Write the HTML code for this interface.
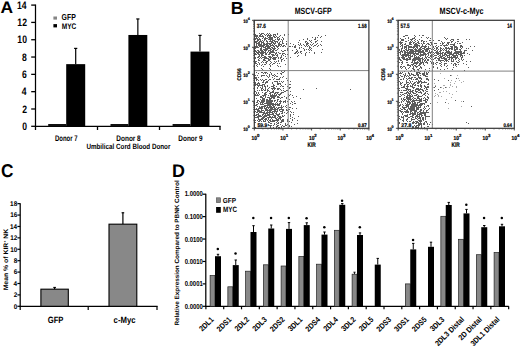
<!DOCTYPE html>
<html><head><meta charset="utf-8"><style>
html,body{margin:0;padding:0;background:#fff;width:520px;height:349px;overflow:hidden}
svg{display:block}
text{font-family:"Liberation Sans",sans-serif;font-weight:bold;font-kerning:none;text-rendering:geometricPrecision}
</style></head><body>
<svg width="520" height="349" viewBox="0 0 520 349">
<rect width="520" height="349" fill="#fff"/>
<text x="0.6" y="12.7" font-size="16.57" textLength="12.56" lengthAdjust="spacingAndGlyphs" fill="#000">A</text>
<path d="M35.5 4.5L35.5 126.9" stroke="#000" stroke-width="1.25"/>
<text x="17.06" y="8.7" font-size="10.83" textLength="9.59" lengthAdjust="spacingAndGlyphs" fill="#000">14</text>
<path d="M31.2 126.3L35.5 126.3" stroke="#000" stroke-width="1.3"/>
<text x="26.95" y="130.03" font-size="10.83" text-anchor="end" textLength="4.79" lengthAdjust="spacingAndGlyphs" fill="#000">0</text>
<path d="M31.2 108.99L35.5 108.99" stroke="#000" stroke-width="1.3"/>
<text x="26.95" y="112.77" font-size="10.83" text-anchor="end" textLength="4.79" lengthAdjust="spacingAndGlyphs" fill="#000">2</text>
<path d="M31.2 91.67L35.5 91.67" stroke="#000" stroke-width="1.3"/>
<text x="26.65" y="95.4" font-size="10.83" text-anchor="end" textLength="4.79" lengthAdjust="spacingAndGlyphs" fill="#000">4</text>
<path d="M31.2 74.36L35.5 74.36" stroke="#000" stroke-width="1.3"/>
<text x="26.91" y="78.08" font-size="10.83" text-anchor="end" textLength="4.79" lengthAdjust="spacingAndGlyphs" fill="#000">6</text>
<path d="M31.2 57.04L35.5 57.04" stroke="#000" stroke-width="1.3"/>
<text x="26.87" y="60.77" font-size="10.83" text-anchor="end" textLength="4.79" lengthAdjust="spacingAndGlyphs" fill="#000">8</text>
<path d="M31.2 39.73L35.5 39.73" stroke="#000" stroke-width="1.3"/>
<text x="26.95" y="43.46" font-size="10.83" text-anchor="end" textLength="9.59" lengthAdjust="spacingAndGlyphs" fill="#000">10</text>
<path d="M31.2 22.41L35.5 22.41" stroke="#000" stroke-width="1.3"/>
<text x="26.95" y="26.19" font-size="10.83" text-anchor="end" textLength="9.59" lengthAdjust="spacingAndGlyphs" fill="#000">12</text>
<path d="M31.2 5.1L35.5 5.1" stroke="#000" stroke-width="1.3"/>
<path d="M34.9 126.3L220.6 126.3" stroke="#000" stroke-width="1.3"/>
<path d="M35.5 126.3L35.5 130" stroke="#000" stroke-width="1.3"/>
<path d="M97.5 126.3L97.5 130" stroke="#000" stroke-width="1.3"/>
<path d="M159.5 126.3L159.5 130" stroke="#000" stroke-width="1.3"/>
<path d="M220 126.3L220 130" stroke="#000" stroke-width="1.3"/>
<rect x="53.4" y="16.5" width="3.6" height="3.1" fill="#858585"/>
<rect x="53.4" y="24.1" width="3.6" height="3.3" fill="#000"/>
<text x="61.62" y="20.47" font-size="8.69" textLength="14.22" lengthAdjust="spacingAndGlyphs" fill="#000">GFP</text>
<text x="61.76" y="28.82" font-size="8.19" textLength="14.57" lengthAdjust="spacingAndGlyphs" fill="#000">MYC</text>
<rect x="48.2" y="124" width="18" height="2.3" fill="#111"/>
<path d="M75.7 48.39L75.7 64.14" stroke="#000" stroke-width="1.2"/>
<path d="M74.1 48.39L77.3 48.39" stroke="#000" stroke-width="1.2"/>
<rect x="66.2" y="64.14" width="19" height="62.16" fill="#000"/>
<rect x="110.5" y="124" width="17.9" height="2.3" fill="#111"/>
<path d="M137.85 18.95L137.85 34.97" stroke="#000" stroke-width="1.2"/>
<path d="M136.25 18.95L139.45 18.95" stroke="#000" stroke-width="1.2"/>
<rect x="128.4" y="34.97" width="18.9" height="91.33" fill="#000"/>
<rect x="172.6" y="124" width="17.9" height="2.3" fill="#111"/>
<path d="M199.95 35.4L199.95 51.59" stroke="#000" stroke-width="1.2"/>
<path d="M198.35 35.4L201.55 35.4" stroke="#000" stroke-width="1.2"/>
<rect x="190.5" y="51.59" width="18.9" height="74.71" fill="#000"/>
<text x="54.9" y="140.62" font-size="8.17" textLength="22.66" lengthAdjust="spacingAndGlyphs" fill="#000">Donor 7</text>
<text x="116.37" y="140.62" font-size="8.05" textLength="24.33" lengthAdjust="spacingAndGlyphs" fill="#000">Donor 8</text>
<text x="178.37" y="140.62" font-size="8.05" textLength="24.27" lengthAdjust="spacingAndGlyphs" fill="#000">Donor 9</text>
<text x="86.42" y="149.23" font-size="7.63" textLength="83.97" lengthAdjust="spacingAndGlyphs" fill="#000">Umbilical Cord Blood Donor</text>
<text x="230.7" y="13.8" font-size="17.44" textLength="12.91" lengthAdjust="spacingAndGlyphs" fill="#000">B</text>
<path d="M254 50h1v1h-1zM254 54h1v1h-1zM254 60h1v1h-1zM254 77h1v1h-1zM254 91h1v1h-1zM254 103h1v1h-1zM254 109h1v1h-1zM254 112h1v1h-1zM254 116h1v1h-1zM254 122h1v1h-1zM255 34h1v1h-1zM255 35h1v1h-1zM255 36h1v1h-1zM255 38h1v1h-1zM255 39h1v1h-1zM255 41h1v1h-1zM255 42h1v1h-1zM255 46h1v1h-1zM255 47h1v1h-1zM255 48h1v1h-1zM255 50h1v1h-1zM255 51h1v1h-1zM255 53h1v1h-1zM255 54h1v1h-1zM255 57h1v1h-1zM255 58h1v1h-1zM255 61h1v1h-1zM255 62h1v1h-1zM255 63h1v1h-1zM255 75h1v1h-1zM255 77h1v1h-1zM255 78h1v1h-1zM255 82h1v1h-1zM255 83h1v1h-1zM255 84h1v1h-1zM255 85h1v1h-1zM255 91h1v1h-1zM255 94h1v1h-1zM255 95h1v1h-1zM255 105h1v1h-1zM255 109h1v1h-1zM255 111h1v1h-1zM255 115h1v1h-1zM255 117h1v1h-1zM255 120h1v1h-1zM255 122h1v1h-1zM255 127h1v1h-1zM256 35h1v1h-1zM256 36h1v1h-1zM256 37h1v1h-1zM256 38h1v1h-1zM256 41h1v1h-1zM256 42h1v1h-1zM256 43h1v1h-1zM256 44h1v1h-1zM256 45h1v1h-1zM256 46h1v1h-1zM256 47h1v1h-1zM256 51h1v1h-1zM256 52h1v1h-1zM256 54h1v1h-1zM256 61h1v1h-1zM256 63h1v1h-1zM256 65h1v1h-1zM256 72h1v1h-1zM256 77h1v1h-1zM256 78h1v1h-1zM256 79h1v1h-1zM256 80h1v1h-1zM256 84h1v1h-1zM256 92h1v1h-1zM256 93h1v1h-1zM256 95h1v1h-1zM256 98h1v1h-1zM256 102h1v1h-1zM256 104h1v1h-1zM256 105h1v1h-1zM256 108h1v1h-1zM256 109h1v1h-1zM256 112h1v1h-1zM256 114h1v1h-1zM256 115h1v1h-1zM256 117h1v1h-1zM257 35h1v1h-1zM257 36h1v1h-1zM257 38h1v1h-1zM257 39h1v1h-1zM257 40h1v1h-1zM257 41h1v1h-1zM257 43h1v1h-1zM257 46h1v1h-1zM257 47h1v1h-1zM257 50h1v1h-1zM257 52h1v1h-1zM257 53h1v1h-1zM257 57h1v1h-1zM257 64h1v1h-1zM257 66h1v1h-1zM257 75h1v1h-1zM257 79h1v1h-1zM257 83h1v1h-1zM257 84h1v1h-1zM257 85h1v1h-1zM257 87h1v1h-1zM257 88h1v1h-1zM257 90h1v1h-1zM257 94h1v1h-1zM257 95h1v1h-1zM257 100h1v1h-1zM257 101h1v1h-1zM257 102h1v1h-1zM257 104h1v1h-1zM257 106h1v1h-1zM257 109h1v1h-1zM257 110h1v1h-1zM257 111h1v1h-1zM257 112h1v1h-1zM257 114h1v1h-1zM257 116h1v1h-1zM257 117h1v1h-1zM257 120h1v1h-1zM258 37h1v1h-1zM258 39h1v1h-1zM258 40h1v1h-1zM258 42h1v1h-1zM258 43h1v1h-1zM258 44h1v1h-1zM258 45h1v1h-1zM258 47h1v1h-1zM258 50h1v1h-1zM258 51h1v1h-1zM258 52h1v1h-1zM258 53h1v1h-1zM258 54h1v1h-1zM258 56h1v1h-1zM258 57h1v1h-1zM258 59h1v1h-1zM258 60h1v1h-1zM258 62h1v1h-1zM258 73h1v1h-1zM258 77h1v1h-1zM258 80h1v1h-1zM258 82h1v1h-1zM258 83h1v1h-1zM258 85h1v1h-1zM258 86h1v1h-1zM258 92h1v1h-1zM258 93h1v1h-1zM258 95h1v1h-1zM258 100h1v1h-1zM258 103h1v1h-1zM258 108h1v1h-1zM258 109h1v1h-1zM258 110h1v1h-1zM258 111h1v1h-1zM258 113h1v1h-1zM258 114h1v1h-1zM258 115h1v1h-1zM258 116h1v1h-1zM258 117h1v1h-1zM258 118h1v1h-1zM258 119h1v1h-1zM258 121h1v1h-1zM259 33h1v1h-1zM259 35h1v1h-1zM259 36h1v1h-1zM259 38h1v1h-1zM259 39h1v1h-1zM259 41h1v1h-1zM259 42h1v1h-1zM259 43h1v1h-1zM259 44h1v1h-1zM259 45h1v1h-1zM259 46h1v1h-1zM259 51h1v1h-1zM259 52h1v1h-1zM259 54h1v1h-1zM259 55h1v1h-1zM259 56h1v1h-1zM259 58h1v1h-1zM259 60h1v1h-1zM259 63h1v1h-1zM259 64h1v1h-1zM259 70h1v1h-1zM259 83h1v1h-1zM259 84h1v1h-1zM259 85h1v1h-1zM259 90h1v1h-1zM259 94h1v1h-1zM259 101h1v1h-1zM259 106h1v1h-1zM259 107h1v1h-1zM259 108h1v1h-1zM259 110h1v1h-1zM259 111h1v1h-1zM259 112h1v1h-1zM259 115h1v1h-1zM259 116h1v1h-1zM259 119h1v1h-1zM259 120h1v1h-1zM259 121h1v1h-1zM260 34h1v1h-1zM260 35h1v1h-1zM260 36h1v1h-1zM260 39h1v1h-1zM260 40h1v1h-1zM260 41h1v1h-1zM260 44h1v1h-1zM260 45h1v1h-1zM260 46h1v1h-1zM260 48h1v1h-1zM260 49h1v1h-1zM260 50h1v1h-1zM260 52h1v1h-1zM260 53h1v1h-1zM260 57h1v1h-1zM260 79h1v1h-1zM260 85h1v1h-1zM260 87h1v1h-1zM260 96h1v1h-1zM260 97h1v1h-1zM260 99h1v1h-1zM260 102h1v1h-1zM260 103h1v1h-1zM260 104h1v1h-1zM260 107h1v1h-1zM260 108h1v1h-1zM260 111h1v1h-1zM260 112h1v1h-1zM260 115h1v1h-1zM260 116h1v1h-1zM260 119h1v1h-1zM260 120h1v1h-1zM261 33h1v1h-1zM261 34h1v1h-1zM261 36h1v1h-1zM261 41h1v1h-1zM261 42h1v1h-1zM261 43h1v1h-1zM261 44h1v1h-1zM261 45h1v1h-1zM261 46h1v1h-1zM261 47h1v1h-1zM261 48h1v1h-1zM261 49h1v1h-1zM261 50h1v1h-1zM261 51h1v1h-1zM261 52h1v1h-1zM261 53h1v1h-1zM261 54h1v1h-1zM261 55h1v1h-1zM261 56h1v1h-1zM261 58h1v1h-1zM261 62h1v1h-1zM261 65h1v1h-1zM261 68h1v1h-1zM261 72h1v1h-1zM261 75h1v1h-1zM261 76h1v1h-1zM261 80h1v1h-1zM261 85h1v1h-1zM261 88h1v1h-1zM261 89h1v1h-1zM261 90h1v1h-1zM261 96h1v1h-1zM261 97h1v1h-1zM261 100h1v1h-1zM261 101h1v1h-1zM261 102h1v1h-1zM261 104h1v1h-1zM261 106h1v1h-1zM261 107h1v1h-1zM261 108h1v1h-1zM261 109h1v1h-1zM261 110h1v1h-1zM261 111h1v1h-1zM261 112h1v1h-1zM261 116h1v1h-1zM261 118h1v1h-1zM261 119h1v1h-1zM261 121h1v1h-1zM262 33h1v1h-1zM262 35h1v1h-1zM262 36h1v1h-1zM262 38h1v1h-1zM262 40h1v1h-1zM262 42h1v1h-1zM262 45h1v1h-1zM262 46h1v1h-1zM262 50h1v1h-1zM262 51h1v1h-1zM262 52h1v1h-1zM262 53h1v1h-1zM262 54h1v1h-1zM262 55h1v1h-1zM262 57h1v1h-1zM262 61h1v1h-1zM262 64h1v1h-1zM262 69h1v1h-1zM262 72h1v1h-1zM262 75h1v1h-1zM262 79h1v1h-1zM262 82h1v1h-1zM262 84h1v1h-1zM262 85h1v1h-1zM262 86h1v1h-1zM262 87h1v1h-1zM262 88h1v1h-1zM262 90h1v1h-1zM262 92h1v1h-1zM262 95h1v1h-1zM262 97h1v1h-1zM262 98h1v1h-1zM262 99h1v1h-1zM262 100h1v1h-1zM262 101h1v1h-1zM262 102h1v1h-1zM262 103h1v1h-1zM262 104h1v1h-1zM262 106h1v1h-1zM262 107h1v1h-1zM262 108h1v1h-1zM262 110h1v1h-1zM262 112h1v1h-1zM262 114h1v1h-1zM262 115h1v1h-1zM262 117h1v1h-1zM262 118h1v1h-1zM262 119h1v1h-1zM263 33h1v1h-1zM263 36h1v1h-1zM263 37h1v1h-1zM263 41h1v1h-1zM263 42h1v1h-1zM263 43h1v1h-1zM263 44h1v1h-1zM263 45h1v1h-1zM263 46h1v1h-1zM263 47h1v1h-1zM263 49h1v1h-1zM263 51h1v1h-1zM263 52h1v1h-1zM263 53h1v1h-1zM263 55h1v1h-1zM263 57h1v1h-1zM263 59h1v1h-1zM263 60h1v1h-1zM263 62h1v1h-1zM263 66h1v1h-1zM263 70h1v1h-1zM263 73h1v1h-1zM263 75h1v1h-1zM263 80h1v1h-1zM263 81h1v1h-1zM263 82h1v1h-1zM263 84h1v1h-1zM263 89h1v1h-1zM263 95h1v1h-1zM263 96h1v1h-1zM263 98h1v1h-1zM263 99h1v1h-1zM263 100h1v1h-1zM263 101h1v1h-1zM263 102h1v1h-1zM263 104h1v1h-1zM263 106h1v1h-1zM263 110h1v1h-1zM263 112h1v1h-1zM263 113h1v1h-1zM263 114h1v1h-1zM263 116h1v1h-1zM263 117h1v1h-1zM263 118h1v1h-1zM263 120h1v1h-1zM263 121h1v1h-1zM264 34h1v1h-1zM264 38h1v1h-1zM264 39h1v1h-1zM264 40h1v1h-1zM264 43h1v1h-1zM264 44h1v1h-1zM264 45h1v1h-1zM264 47h1v1h-1zM264 49h1v1h-1zM264 50h1v1h-1zM264 52h1v1h-1zM264 56h1v1h-1zM264 57h1v1h-1zM264 58h1v1h-1zM264 59h1v1h-1zM264 60h1v1h-1zM264 64h1v1h-1zM264 72h1v1h-1zM264 75h1v1h-1zM264 80h1v1h-1zM264 84h1v1h-1zM264 85h1v1h-1zM264 86h1v1h-1zM264 90h1v1h-1zM264 93h1v1h-1zM264 94h1v1h-1zM264 95h1v1h-1zM264 98h1v1h-1zM264 99h1v1h-1zM264 100h1v1h-1zM264 101h1v1h-1zM264 103h1v1h-1zM264 105h1v1h-1zM264 106h1v1h-1zM264 107h1v1h-1zM264 108h1v1h-1zM264 111h1v1h-1zM264 112h1v1h-1zM264 113h1v1h-1zM264 115h1v1h-1zM264 116h1v1h-1zM264 117h1v1h-1zM264 119h1v1h-1zM264 121h1v1h-1zM265 35h1v1h-1zM265 37h1v1h-1zM265 38h1v1h-1zM265 39h1v1h-1zM265 44h1v1h-1zM265 46h1v1h-1zM265 47h1v1h-1zM265 48h1v1h-1zM265 49h1v1h-1zM265 50h1v1h-1zM265 51h1v1h-1zM265 52h1v1h-1zM265 53h1v1h-1zM265 54h1v1h-1zM265 56h1v1h-1zM265 57h1v1h-1zM265 58h1v1h-1zM265 60h1v1h-1zM265 62h1v1h-1zM265 64h1v1h-1zM265 72h1v1h-1zM265 73h1v1h-1zM265 79h1v1h-1zM265 82h1v1h-1zM265 83h1v1h-1zM265 86h1v1h-1zM265 87h1v1h-1zM265 88h1v1h-1zM265 89h1v1h-1zM265 90h1v1h-1zM265 92h1v1h-1zM265 93h1v1h-1zM265 94h1v1h-1zM265 95h1v1h-1zM265 96h1v1h-1zM265 97h1v1h-1zM265 103h1v1h-1zM265 105h1v1h-1zM265 106h1v1h-1zM265 108h1v1h-1zM265 109h1v1h-1zM265 110h1v1h-1zM265 113h1v1h-1zM265 114h1v1h-1zM265 115h1v1h-1zM265 116h1v1h-1zM265 118h1v1h-1zM265 119h1v1h-1zM265 120h1v1h-1zM265 121h1v1h-1zM266 34h1v1h-1zM266 38h1v1h-1zM266 40h1v1h-1zM266 41h1v1h-1zM266 43h1v1h-1zM266 44h1v1h-1zM266 45h1v1h-1zM266 46h1v1h-1zM266 48h1v1h-1zM266 49h1v1h-1zM266 50h1v1h-1zM266 53h1v1h-1zM266 54h1v1h-1zM266 57h1v1h-1zM266 58h1v1h-1zM266 61h1v1h-1zM266 62h1v1h-1zM266 63h1v1h-1zM266 72h1v1h-1zM266 75h1v1h-1zM266 79h1v1h-1zM266 81h1v1h-1zM266 82h1v1h-1zM266 92h1v1h-1zM266 94h1v1h-1zM266 99h1v1h-1zM266 100h1v1h-1zM266 101h1v1h-1zM266 102h1v1h-1zM266 103h1v1h-1zM266 105h1v1h-1zM266 107h1v1h-1zM266 108h1v1h-1zM266 109h1v1h-1zM266 110h1v1h-1zM266 112h1v1h-1zM266 113h1v1h-1zM266 115h1v1h-1zM266 116h1v1h-1zM266 118h1v1h-1zM266 119h1v1h-1zM267 33h1v1h-1zM267 35h1v1h-1zM267 36h1v1h-1zM267 38h1v1h-1zM267 41h1v1h-1zM267 42h1v1h-1zM267 43h1v1h-1zM267 44h1v1h-1zM267 45h1v1h-1zM267 46h1v1h-1zM267 47h1v1h-1zM267 48h1v1h-1zM267 49h1v1h-1zM267 52h1v1h-1zM267 58h1v1h-1zM267 61h1v1h-1zM267 73h1v1h-1zM267 76h1v1h-1zM267 81h1v1h-1zM267 82h1v1h-1zM267 85h1v1h-1zM267 86h1v1h-1zM267 89h1v1h-1zM267 90h1v1h-1zM267 91h1v1h-1zM267 97h1v1h-1zM267 99h1v1h-1zM267 100h1v1h-1zM267 101h1v1h-1zM267 102h1v1h-1zM267 103h1v1h-1zM267 104h1v1h-1zM267 105h1v1h-1zM267 106h1v1h-1zM267 107h1v1h-1zM267 109h1v1h-1zM267 110h1v1h-1zM267 111h1v1h-1zM267 112h1v1h-1zM267 113h1v1h-1zM267 114h1v1h-1zM267 115h1v1h-1zM267 117h1v1h-1zM267 120h1v1h-1zM268 34h1v1h-1zM268 35h1v1h-1zM268 37h1v1h-1zM268 39h1v1h-1zM268 43h1v1h-1zM268 45h1v1h-1zM268 46h1v1h-1zM268 47h1v1h-1zM268 48h1v1h-1zM268 50h1v1h-1zM268 51h1v1h-1zM268 54h1v1h-1zM268 56h1v1h-1zM268 58h1v1h-1zM268 59h1v1h-1zM268 60h1v1h-1zM268 77h1v1h-1zM268 80h1v1h-1zM268 88h1v1h-1zM268 90h1v1h-1zM268 95h1v1h-1zM268 97h1v1h-1zM268 100h1v1h-1zM268 101h1v1h-1zM268 102h1v1h-1zM268 103h1v1h-1zM268 104h1v1h-1zM268 105h1v1h-1zM268 107h1v1h-1zM268 108h1v1h-1zM268 110h1v1h-1zM268 112h1v1h-1zM268 114h1v1h-1zM268 115h1v1h-1zM268 117h1v1h-1zM268 118h1v1h-1zM268 119h1v1h-1zM268 121h1v1h-1zM268 122h1v1h-1zM268 124h1v1h-1zM268 125h1v1h-1zM269 33h1v1h-1zM269 35h1v1h-1zM269 36h1v1h-1zM269 37h1v1h-1zM269 38h1v1h-1zM269 39h1v1h-1zM269 41h1v1h-1zM269 43h1v1h-1zM269 44h1v1h-1zM269 46h1v1h-1zM269 47h1v1h-1zM269 48h1v1h-1zM269 50h1v1h-1zM269 52h1v1h-1zM269 53h1v1h-1zM269 54h1v1h-1zM269 56h1v1h-1zM269 57h1v1h-1zM269 59h1v1h-1zM269 60h1v1h-1zM269 64h1v1h-1zM269 68h1v1h-1zM269 74h1v1h-1zM269 75h1v1h-1zM269 76h1v1h-1zM269 79h1v1h-1zM269 87h1v1h-1zM269 91h1v1h-1zM269 93h1v1h-1zM269 97h1v1h-1zM269 98h1v1h-1zM269 99h1v1h-1zM269 100h1v1h-1zM269 101h1v1h-1zM269 102h1v1h-1zM269 103h1v1h-1zM269 104h1v1h-1zM269 105h1v1h-1zM269 106h1v1h-1zM269 107h1v1h-1zM269 109h1v1h-1zM269 110h1v1h-1zM269 111h1v1h-1zM269 112h1v1h-1zM269 113h1v1h-1zM269 114h1v1h-1zM269 115h1v1h-1zM269 116h1v1h-1zM269 117h1v1h-1zM269 120h1v1h-1zM269 122h1v1h-1zM269 125h1v1h-1zM270 34h1v1h-1zM270 35h1v1h-1zM270 36h1v1h-1zM270 37h1v1h-1zM270 38h1v1h-1zM270 39h1v1h-1zM270 40h1v1h-1zM270 41h1v1h-1zM270 43h1v1h-1zM270 44h1v1h-1zM270 45h1v1h-1zM270 46h1v1h-1zM270 48h1v1h-1zM270 49h1v1h-1zM270 50h1v1h-1zM270 51h1v1h-1zM270 52h1v1h-1zM270 53h1v1h-1zM270 56h1v1h-1zM270 57h1v1h-1zM270 58h1v1h-1zM270 59h1v1h-1zM270 61h1v1h-1zM270 63h1v1h-1zM270 65h1v1h-1zM270 66h1v1h-1zM270 69h1v1h-1zM270 72h1v1h-1zM270 79h1v1h-1zM270 92h1v1h-1zM270 93h1v1h-1zM270 94h1v1h-1zM270 95h1v1h-1zM270 96h1v1h-1zM270 98h1v1h-1zM270 99h1v1h-1zM270 100h1v1h-1zM270 101h1v1h-1zM270 102h1v1h-1zM270 103h1v1h-1zM270 104h1v1h-1zM270 105h1v1h-1zM270 106h1v1h-1zM270 107h1v1h-1zM270 108h1v1h-1zM270 109h1v1h-1zM270 110h1v1h-1zM270 111h1v1h-1zM270 112h1v1h-1zM270 114h1v1h-1zM270 116h1v1h-1zM270 117h1v1h-1zM270 119h1v1h-1zM270 120h1v1h-1zM270 121h1v1h-1zM270 123h1v1h-1zM270 125h1v1h-1zM270 126h1v1h-1zM270 127h1v1h-1zM271 35h1v1h-1zM271 37h1v1h-1zM271 38h1v1h-1zM271 39h1v1h-1zM271 41h1v1h-1zM271 42h1v1h-1zM271 43h1v1h-1zM271 45h1v1h-1zM271 47h1v1h-1zM271 49h1v1h-1zM271 51h1v1h-1zM271 52h1v1h-1zM271 54h1v1h-1zM271 57h1v1h-1zM271 62h1v1h-1zM271 73h1v1h-1zM271 74h1v1h-1zM271 86h1v1h-1zM271 88h1v1h-1zM271 92h1v1h-1zM271 95h1v1h-1zM271 96h1v1h-1zM271 97h1v1h-1zM271 98h1v1h-1zM271 100h1v1h-1zM271 101h1v1h-1zM271 102h1v1h-1zM271 103h1v1h-1zM271 104h1v1h-1zM271 106h1v1h-1zM271 107h1v1h-1zM271 108h1v1h-1zM271 109h1v1h-1zM271 110h1v1h-1zM271 112h1v1h-1zM271 114h1v1h-1zM271 117h1v1h-1zM271 118h1v1h-1zM271 121h1v1h-1zM271 123h1v1h-1zM271 125h1v1h-1zM272 37h1v1h-1zM272 38h1v1h-1zM272 39h1v1h-1zM272 40h1v1h-1zM272 41h1v1h-1zM272 42h1v1h-1zM272 44h1v1h-1zM272 45h1v1h-1zM272 47h1v1h-1zM272 48h1v1h-1zM272 50h1v1h-1zM272 51h1v1h-1zM272 52h1v1h-1zM272 54h1v1h-1zM272 55h1v1h-1zM272 56h1v1h-1zM272 58h1v1h-1zM272 64h1v1h-1zM272 75h1v1h-1zM272 77h1v1h-1zM272 82h1v1h-1zM272 83h1v1h-1zM272 86h1v1h-1zM272 88h1v1h-1zM272 89h1v1h-1zM272 91h1v1h-1zM272 92h1v1h-1zM272 94h1v1h-1zM272 95h1v1h-1zM272 96h1v1h-1zM272 97h1v1h-1zM272 100h1v1h-1zM272 101h1v1h-1zM272 103h1v1h-1zM272 104h1v1h-1zM272 105h1v1h-1zM272 107h1v1h-1zM272 108h1v1h-1zM272 109h1v1h-1zM272 111h1v1h-1zM272 112h1v1h-1zM272 113h1v1h-1zM272 114h1v1h-1zM272 116h1v1h-1zM272 117h1v1h-1zM272 119h1v1h-1zM272 120h1v1h-1zM272 121h1v1h-1zM273 34h1v1h-1zM273 35h1v1h-1zM273 36h1v1h-1zM273 40h1v1h-1zM273 42h1v1h-1zM273 43h1v1h-1zM273 45h1v1h-1zM273 46h1v1h-1zM273 48h1v1h-1zM273 49h1v1h-1zM273 50h1v1h-1zM273 51h1v1h-1zM273 52h1v1h-1zM273 54h1v1h-1zM273 55h1v1h-1zM273 57h1v1h-1zM273 58h1v1h-1zM273 59h1v1h-1zM273 63h1v1h-1zM273 75h1v1h-1zM273 79h1v1h-1zM273 84h1v1h-1zM273 85h1v1h-1zM273 86h1v1h-1zM273 87h1v1h-1zM273 88h1v1h-1zM273 90h1v1h-1zM273 91h1v1h-1zM273 92h1v1h-1zM273 95h1v1h-1zM273 96h1v1h-1zM273 97h1v1h-1zM273 98h1v1h-1zM273 103h1v1h-1zM273 104h1v1h-1zM273 105h1v1h-1zM273 106h1v1h-1zM273 107h1v1h-1zM273 109h1v1h-1zM273 111h1v1h-1zM273 113h1v1h-1zM273 114h1v1h-1zM273 115h1v1h-1zM273 117h1v1h-1zM273 120h1v1h-1zM273 121h1v1h-1zM273 125h1v1h-1zM273 127h1v1h-1zM274 34h1v1h-1zM274 36h1v1h-1zM274 37h1v1h-1zM274 40h1v1h-1zM274 41h1v1h-1zM274 43h1v1h-1zM274 44h1v1h-1zM274 46h1v1h-1zM274 47h1v1h-1zM274 48h1v1h-1zM274 49h1v1h-1zM274 52h1v1h-1zM274 55h1v1h-1zM274 57h1v1h-1zM274 58h1v1h-1zM274 59h1v1h-1zM274 61h1v1h-1zM274 63h1v1h-1zM274 74h1v1h-1zM274 76h1v1h-1zM274 78h1v1h-1zM274 81h1v1h-1zM274 85h1v1h-1zM274 87h1v1h-1zM274 88h1v1h-1zM274 89h1v1h-1zM274 93h1v1h-1zM274 94h1v1h-1zM274 95h1v1h-1zM274 96h1v1h-1zM274 97h1v1h-1zM274 98h1v1h-1zM274 100h1v1h-1zM274 101h1v1h-1zM274 104h1v1h-1zM274 106h1v1h-1zM274 107h1v1h-1zM274 108h1v1h-1zM274 109h1v1h-1zM274 110h1v1h-1zM274 111h1v1h-1zM274 112h1v1h-1zM274 115h1v1h-1zM274 116h1v1h-1zM274 117h1v1h-1zM274 120h1v1h-1zM274 121h1v1h-1zM274 123h1v1h-1zM274 124h1v1h-1zM275 34h1v1h-1zM275 35h1v1h-1zM275 37h1v1h-1zM275 39h1v1h-1zM275 41h1v1h-1zM275 42h1v1h-1zM275 43h1v1h-1zM275 45h1v1h-1zM275 48h1v1h-1zM275 50h1v1h-1zM275 53h1v1h-1zM275 54h1v1h-1zM275 57h1v1h-1zM275 58h1v1h-1zM275 59h1v1h-1zM275 62h1v1h-1zM275 75h1v1h-1zM275 81h1v1h-1zM275 88h1v1h-1zM275 92h1v1h-1zM275 93h1v1h-1zM275 95h1v1h-1zM275 96h1v1h-1zM275 100h1v1h-1zM275 103h1v1h-1zM275 104h1v1h-1zM275 105h1v1h-1zM275 108h1v1h-1zM275 109h1v1h-1zM275 110h1v1h-1zM275 111h1v1h-1zM275 113h1v1h-1zM275 115h1v1h-1zM275 116h1v1h-1zM275 117h1v1h-1zM275 118h1v1h-1zM275 120h1v1h-1zM276 36h1v1h-1zM276 41h1v1h-1zM276 45h1v1h-1zM276 46h1v1h-1zM276 50h1v1h-1zM276 52h1v1h-1zM276 53h1v1h-1zM276 55h1v1h-1zM276 57h1v1h-1zM276 61h1v1h-1zM276 76h1v1h-1zM276 79h1v1h-1zM276 81h1v1h-1zM276 86h1v1h-1zM276 92h1v1h-1zM276 94h1v1h-1zM276 95h1v1h-1zM276 102h1v1h-1zM276 104h1v1h-1zM276 107h1v1h-1zM276 109h1v1h-1zM276 111h1v1h-1zM276 112h1v1h-1zM276 113h1v1h-1zM276 114h1v1h-1zM276 118h1v1h-1zM276 119h1v1h-1zM276 120h1v1h-1zM276 122h1v1h-1zM276 124h1v1h-1zM276 126h1v1h-1zM276 127h1v1h-1zM277 33h1v1h-1zM277 34h1v1h-1zM277 37h1v1h-1zM277 38h1v1h-1zM277 39h1v1h-1zM277 41h1v1h-1zM277 42h1v1h-1zM277 46h1v1h-1zM277 47h1v1h-1zM277 49h1v1h-1zM277 54h1v1h-1zM277 55h1v1h-1zM277 56h1v1h-1zM277 63h1v1h-1zM277 65h1v1h-1zM277 73h1v1h-1zM277 76h1v1h-1zM277 79h1v1h-1zM277 81h1v1h-1zM277 82h1v1h-1zM277 83h1v1h-1zM277 84h1v1h-1zM277 88h1v1h-1zM277 89h1v1h-1zM277 92h1v1h-1zM277 93h1v1h-1zM277 96h1v1h-1zM277 97h1v1h-1zM277 99h1v1h-1zM277 100h1v1h-1zM277 101h1v1h-1zM277 103h1v1h-1zM277 104h1v1h-1zM277 105h1v1h-1zM277 108h1v1h-1zM277 109h1v1h-1zM277 110h1v1h-1zM277 111h1v1h-1zM277 114h1v1h-1zM277 115h1v1h-1zM277 117h1v1h-1zM277 119h1v1h-1zM277 120h1v1h-1zM277 121h1v1h-1zM277 123h1v1h-1zM277 125h1v1h-1zM277 126h1v1h-1zM278 37h1v1h-1zM278 39h1v1h-1zM278 40h1v1h-1zM278 43h1v1h-1zM278 44h1v1h-1zM278 45h1v1h-1zM278 46h1v1h-1zM278 48h1v1h-1zM278 52h1v1h-1zM278 57h1v1h-1zM278 58h1v1h-1zM278 60h1v1h-1zM278 61h1v1h-1zM278 66h1v1h-1zM278 79h1v1h-1zM278 83h1v1h-1zM278 84h1v1h-1zM278 88h1v1h-1zM278 89h1v1h-1zM278 92h1v1h-1zM278 94h1v1h-1zM278 96h1v1h-1zM278 97h1v1h-1zM278 99h1v1h-1zM278 104h1v1h-1zM278 105h1v1h-1zM278 107h1v1h-1zM278 108h1v1h-1zM278 114h1v1h-1zM278 115h1v1h-1zM278 116h1v1h-1zM278 118h1v1h-1zM278 119h1v1h-1zM278 120h1v1h-1zM278 122h1v1h-1zM278 123h1v1h-1zM278 125h1v1h-1zM278 127h1v1h-1zM279 36h1v1h-1zM279 38h1v1h-1zM279 39h1v1h-1zM279 42h1v1h-1zM279 43h1v1h-1zM279 44h1v1h-1zM279 45h1v1h-1zM279 53h1v1h-1zM279 63h1v1h-1zM279 78h1v1h-1zM279 79h1v1h-1zM279 81h1v1h-1zM279 83h1v1h-1zM279 88h1v1h-1zM279 94h1v1h-1zM279 95h1v1h-1zM279 97h1v1h-1zM279 101h1v1h-1zM279 103h1v1h-1zM279 104h1v1h-1zM279 105h1v1h-1zM279 107h1v1h-1zM279 109h1v1h-1zM279 110h1v1h-1zM279 113h1v1h-1zM279 114h1v1h-1zM279 116h1v1h-1zM279 117h1v1h-1zM279 118h1v1h-1zM279 127h1v1h-1zM280 35h1v1h-1zM280 41h1v1h-1zM280 44h1v1h-1zM280 46h1v1h-1zM280 53h1v1h-1zM280 57h1v1h-1zM280 58h1v1h-1zM280 66h1v1h-1zM280 73h1v1h-1zM280 77h1v1h-1zM280 83h1v1h-1zM280 84h1v1h-1zM280 86h1v1h-1zM280 89h1v1h-1zM280 93h1v1h-1zM280 94h1v1h-1zM280 98h1v1h-1zM280 100h1v1h-1zM280 101h1v1h-1zM280 102h1v1h-1zM280 103h1v1h-1zM280 107h1v1h-1zM280 109h1v1h-1zM280 111h1v1h-1zM280 116h1v1h-1zM280 117h1v1h-1zM280 118h1v1h-1zM280 119h1v1h-1zM280 122h1v1h-1zM280 124h1v1h-1zM281 39h1v1h-1zM281 44h1v1h-1zM281 45h1v1h-1zM281 50h1v1h-1zM281 55h1v1h-1zM281 56h1v1h-1zM281 57h1v1h-1zM281 59h1v1h-1zM281 60h1v1h-1zM281 61h1v1h-1zM281 71h1v1h-1zM281 73h1v1h-1zM281 74h1v1h-1zM281 81h1v1h-1zM281 85h1v1h-1zM281 90h1v1h-1zM281 92h1v1h-1zM281 93h1v1h-1zM281 97h1v1h-1zM281 101h1v1h-1zM281 105h1v1h-1zM281 106h1v1h-1zM281 107h1v1h-1zM281 108h1v1h-1zM281 109h1v1h-1zM281 111h1v1h-1zM281 113h1v1h-1zM281 117h1v1h-1zM281 120h1v1h-1zM281 121h1v1h-1zM281 122h1v1h-1zM281 126h1v1h-1zM281 127h1v1h-1zM282 37h1v1h-1zM282 40h1v1h-1zM282 41h1v1h-1zM282 42h1v1h-1zM282 43h1v1h-1zM282 46h1v1h-1zM282 51h1v1h-1zM282 53h1v1h-1zM282 54h1v1h-1zM282 59h1v1h-1zM282 72h1v1h-1zM282 77h1v1h-1zM282 82h1v1h-1zM282 86h1v1h-1zM282 92h1v1h-1zM282 97h1v1h-1zM282 107h1v1h-1zM282 109h1v1h-1zM282 110h1v1h-1zM282 111h1v1h-1zM282 112h1v1h-1zM282 113h1v1h-1zM282 115h1v1h-1zM282 116h1v1h-1zM282 119h1v1h-1zM282 120h1v1h-1zM282 121h1v1h-1zM282 125h1v1h-1zM283 38h1v1h-1zM283 39h1v1h-1zM283 43h1v1h-1zM283 45h1v1h-1zM283 46h1v1h-1zM283 51h1v1h-1zM283 53h1v1h-1zM283 55h1v1h-1zM283 58h1v1h-1zM283 72h1v1h-1zM283 76h1v1h-1zM283 81h1v1h-1zM283 86h1v1h-1zM283 88h1v1h-1zM283 90h1v1h-1zM283 92h1v1h-1zM283 101h1v1h-1zM283 102h1v1h-1zM283 106h1v1h-1zM283 109h1v1h-1zM283 110h1v1h-1zM283 116h1v1h-1zM283 119h1v1h-1zM283 120h1v1h-1zM283 121h1v1h-1zM283 126h1v1h-1zM284 34h1v1h-1zM284 35h1v1h-1zM284 45h1v1h-1zM284 50h1v1h-1zM284 53h1v1h-1zM284 60h1v1h-1zM284 70h1v1h-1zM284 71h1v1h-1zM284 91h1v1h-1zM284 96h1v1h-1zM284 101h1v1h-1zM284 112h1v1h-1zM284 115h1v1h-1zM284 126h1v1h-1zM285 46h1v1h-1zM285 50h1v1h-1zM285 54h1v1h-1zM285 56h1v1h-1zM285 64h1v1h-1zM285 84h1v1h-1zM285 91h1v1h-1zM285 100h1v1h-1zM285 101h1v1h-1zM285 102h1v1h-1zM285 106h1v1h-1zM285 123h1v1h-1zM285 124h1v1h-1zM285 125h1v1h-1zM286 41h1v1h-1zM286 43h1v1h-1zM286 44h1v1h-1zM286 58h1v1h-1zM286 78h1v1h-1zM286 90h1v1h-1zM286 97h1v1h-1zM286 98h1v1h-1zM286 105h1v1h-1zM286 107h1v1h-1zM286 109h1v1h-1zM286 110h1v1h-1zM286 113h1v1h-1zM286 125h1v1h-1zM287 48h1v1h-1zM287 49h1v1h-1zM287 50h1v1h-1zM287 54h1v1h-1zM287 80h1v1h-1zM287 86h1v1h-1zM287 90h1v1h-1zM287 101h1v1h-1zM287 110h1v1h-1zM287 112h1v1h-1zM287 119h1v1h-1zM287 120h1v1h-1zM287 121h1v1h-1zM287 124h1v1h-1zM288 34h1v1h-1zM288 94h1v1h-1zM288 96h1v1h-1zM288 104h1v1h-1zM288 109h1v1h-1zM288 111h1v1h-1zM289 46h1v1h-1zM289 84h1v1h-1zM289 87h1v1h-1zM289 88h1v1h-1zM289 95h1v1h-1zM289 99h1v1h-1zM289 107h1v1h-1zM289 109h1v1h-1zM289 121h1v1h-1zM289 125h1v1h-1zM289 126h1v1h-1zM290 43h1v1h-1zM290 46h1v1h-1zM290 57h1v1h-1zM290 81h1v1h-1zM290 84h1v1h-1zM290 87h1v1h-1zM290 91h1v1h-1zM290 94h1v1h-1zM290 103h1v1h-1zM290 107h1v1h-1zM290 111h1v1h-1zM290 114h1v1h-1zM290 115h1v1h-1zM290 116h1v1h-1zM290 118h1v1h-1zM291 101h1v1h-1zM291 112h1v1h-1zM291 122h1v1h-1zM291 126h1v1h-1zM292 46h1v1h-1zM292 50h1v1h-1zM292 95h1v1h-1zM292 102h1v1h-1zM292 104h1v1h-1zM292 108h1v1h-1zM292 117h1v1h-1zM292 119h1v1h-1zM292 120h1v1h-1zM293 44h1v1h-1zM293 97h1v1h-1zM293 112h1v1h-1zM293 114h1v1h-1zM294 46h1v1h-1zM294 47h1v1h-1zM294 53h1v1h-1zM294 101h1v1h-1zM294 103h1v1h-1zM294 118h1v1h-1zM294 124h1v1h-1zM295 45h1v1h-1zM295 46h1v1h-1zM295 47h1v1h-1zM295 52h1v1h-1zM295 53h1v1h-1zM295 103h1v1h-1zM296 49h1v1h-1zM296 51h1v1h-1zM296 52h1v1h-1zM296 96h1v1h-1zM296 108h1v1h-1zM297 50h1v1h-1zM297 51h1v1h-1zM297 53h1v1h-1zM297 56h1v1h-1zM297 120h1v1h-1zM297 123h1v1h-1zM298 42h1v1h-1zM298 44h1v1h-1zM298 52h1v1h-1zM298 55h1v1h-1zM298 116h1v1h-1zM299 40h1v1h-1zM299 45h1v1h-1zM299 47h1v1h-1zM299 48h1v1h-1zM300 43h1v1h-1zM300 44h1v1h-1zM300 51h1v1h-1zM300 52h1v1h-1zM300 98h1v1h-1zM301 45h1v1h-1zM301 47h1v1h-1zM301 51h1v1h-1zM301 53h1v1h-1zM303 39h1v1h-1zM303 44h1v1h-1zM303 48h1v1h-1zM303 89h1v1h-1zM304 45h1v1h-1zM304 49h1v1h-1zM304 50h1v1h-1zM305 41h1v1h-1zM305 42h1v1h-1zM305 46h1v1h-1zM305 53h1v1h-1zM305 54h1v1h-1zM305 55h1v1h-1zM306 41h1v1h-1zM306 43h1v1h-1zM306 44h1v1h-1zM306 45h1v1h-1zM306 49h1v1h-1zM306 52h1v1h-1zM307 38h1v1h-1zM307 39h1v1h-1zM307 42h1v1h-1zM307 43h1v1h-1zM307 44h1v1h-1zM307 46h1v1h-1zM308 43h1v1h-1zM308 45h1v1h-1zM308 49h1v1h-1zM309 40h1v1h-1zM309 46h1v1h-1zM309 47h1v1h-1zM309 48h1v1h-1zM309 50h1v1h-1zM309 52h1v1h-1zM310 41h1v1h-1zM310 44h1v1h-1zM310 47h1v1h-1zM310 49h1v1h-1zM311 40h1v1h-1zM311 42h1v1h-1zM311 45h1v1h-1zM311 48h1v1h-1zM311 50h1v1h-1zM312 37h1v1h-1zM312 44h1v1h-1zM313 43h1v1h-1zM313 46h1v1h-1zM314 39h1v1h-1zM314 45h1v1h-1zM314 52h1v1h-1zM314 53h1v1h-1zM315 37h1v1h-1zM315 38h1v1h-1zM315 39h1v1h-1zM315 41h1v1h-1zM315 42h1v1h-1zM315 45h1v1h-1zM316 41h1v1h-1zM316 44h1v1h-1zM316 88h1v1h-1zM317 37h1v1h-1zM317 40h1v1h-1zM317 43h1v1h-1zM317 46h1v1h-1zM318 35h1v1h-1zM318 45h1v1h-1zM320 37h1v1h-1zM320 44h1v1h-1zM321 36h1v1h-1zM321 41h1v1h-1zM321 45h1v1h-1zM321 52h1v1h-1zM322 49h1v1h-1zM325 35h1v1h-1zM350 89h1v1h-1z" fill="#5c5c5c"/>
<path d="M288.2 20.3L288.2 128.3" stroke="#808080" stroke-width="1.0"/>
<path d="M254.3 70.6L368.9 70.6" stroke="#808080" stroke-width="1.0"/>
<rect x="254.3" y="20.3" width="114.6" height="108" fill="none" stroke="#333" stroke-width="1.2"/>
<g stroke="#000" stroke-width="0.2">
<path d="M252 128.3L254.3 128.3" stroke="#333" stroke-width="0.9"/>
<text x="247.97" y="130.62" font-size="5" text-anchor="end" textLength="4.73" lengthAdjust="spacingAndGlyphs" fill="#000">10</text>
<text x="247.7" y="128.3" font-size="3.7">0</text>
<path d="M254.3 128.3L254.3 130.5" stroke="#333" stroke-width="0.9"/>
<text x="251.6" y="140" font-size="5.8" textLength="5.48" lengthAdjust="spacingAndGlyphs" fill="#000">10</text>
<text x="257" y="136.8" font-size="4.4">0</text>
<path d="M253 120.17L254.3 120.17" stroke="#444" stroke-width="0.6"/>
<path d="M262.92 128.3L262.92 129.6" stroke="#444" stroke-width="0.6"/>
<path d="M253 115.42L254.3 115.42" stroke="#444" stroke-width="0.6"/>
<path d="M267.97 128.3L267.97 129.6" stroke="#444" stroke-width="0.6"/>
<path d="M253 112.04L254.3 112.04" stroke="#444" stroke-width="0.6"/>
<path d="M271.55 128.3L271.55 129.6" stroke="#444" stroke-width="0.6"/>
<path d="M253 109.43L254.3 109.43" stroke="#444" stroke-width="0.6"/>
<path d="M274.33 128.3L274.33 129.6" stroke="#444" stroke-width="0.6"/>
<path d="M253 107.29L254.3 107.29" stroke="#444" stroke-width="0.6"/>
<path d="M276.59 128.3L276.59 129.6" stroke="#444" stroke-width="0.6"/>
<path d="M253 105.48L254.3 105.48" stroke="#444" stroke-width="0.6"/>
<path d="M278.51 128.3L278.51 129.6" stroke="#444" stroke-width="0.6"/>
<path d="M253 103.92L254.3 103.92" stroke="#444" stroke-width="0.6"/>
<path d="M280.17 128.3L280.17 129.6" stroke="#444" stroke-width="0.6"/>
<path d="M253 102.54L254.3 102.54" stroke="#444" stroke-width="0.6"/>
<path d="M281.64 128.3L281.64 129.6" stroke="#444" stroke-width="0.6"/>
<path d="M252 101.3L254.3 101.3" stroke="#333" stroke-width="0.9"/>
<text x="247.97" y="103.62" font-size="5" text-anchor="end" textLength="4.73" lengthAdjust="spacingAndGlyphs" fill="#000">10</text>
<text x="247.7" y="101.3" font-size="3.7">1</text>
<path d="M282.95 128.3L282.95 130.5" stroke="#333" stroke-width="0.9"/>
<text x="280.25" y="140" font-size="5.8" textLength="5.48" lengthAdjust="spacingAndGlyphs" fill="#000">10</text>
<text x="285.65" y="136.8" font-size="4.4">1</text>
<path d="M253 93.17L254.3 93.17" stroke="#444" stroke-width="0.6"/>
<path d="M291.57 128.3L291.57 129.6" stroke="#444" stroke-width="0.6"/>
<path d="M253 88.42L254.3 88.42" stroke="#444" stroke-width="0.6"/>
<path d="M296.62 128.3L296.62 129.6" stroke="#444" stroke-width="0.6"/>
<path d="M253 85.04L254.3 85.04" stroke="#444" stroke-width="0.6"/>
<path d="M300.2 128.3L300.2 129.6" stroke="#444" stroke-width="0.6"/>
<path d="M253 82.43L254.3 82.43" stroke="#444" stroke-width="0.6"/>
<path d="M302.98 128.3L302.98 129.6" stroke="#444" stroke-width="0.6"/>
<path d="M253 80.29L254.3 80.29" stroke="#444" stroke-width="0.6"/>
<path d="M305.24 128.3L305.24 129.6" stroke="#444" stroke-width="0.6"/>
<path d="M253 78.48L254.3 78.48" stroke="#444" stroke-width="0.6"/>
<path d="M307.16 128.3L307.16 129.6" stroke="#444" stroke-width="0.6"/>
<path d="M253 76.92L254.3 76.92" stroke="#444" stroke-width="0.6"/>
<path d="M308.82 128.3L308.82 129.6" stroke="#444" stroke-width="0.6"/>
<path d="M253 75.54L254.3 75.54" stroke="#444" stroke-width="0.6"/>
<path d="M310.29 128.3L310.29 129.6" stroke="#444" stroke-width="0.6"/>
<path d="M252 74.3L254.3 74.3" stroke="#333" stroke-width="0.9"/>
<text x="247.97" y="76.62" font-size="5" text-anchor="end" textLength="4.73" lengthAdjust="spacingAndGlyphs" fill="#000">10</text>
<text x="247.7" y="74.3" font-size="3.7">2</text>
<path d="M311.6 128.3L311.6 130.5" stroke="#333" stroke-width="0.9"/>
<text x="308.9" y="140" font-size="5.8" textLength="5.48" lengthAdjust="spacingAndGlyphs" fill="#000">10</text>
<text x="314.3" y="136.8" font-size="4.4">2</text>
<path d="M253 66.17L254.3 66.17" stroke="#444" stroke-width="0.6"/>
<path d="M320.22 128.3L320.22 129.6" stroke="#444" stroke-width="0.6"/>
<path d="M253 61.42L254.3 61.42" stroke="#444" stroke-width="0.6"/>
<path d="M325.27 128.3L325.27 129.6" stroke="#444" stroke-width="0.6"/>
<path d="M253 58.04L254.3 58.04" stroke="#444" stroke-width="0.6"/>
<path d="M328.85 128.3L328.85 129.6" stroke="#444" stroke-width="0.6"/>
<path d="M253 55.43L254.3 55.43" stroke="#444" stroke-width="0.6"/>
<path d="M331.63 128.3L331.63 129.6" stroke="#444" stroke-width="0.6"/>
<path d="M253 53.29L254.3 53.29" stroke="#444" stroke-width="0.6"/>
<path d="M333.89 128.3L333.89 129.6" stroke="#444" stroke-width="0.6"/>
<path d="M253 51.48L254.3 51.48" stroke="#444" stroke-width="0.6"/>
<path d="M335.81 128.3L335.81 129.6" stroke="#444" stroke-width="0.6"/>
<path d="M253 49.92L254.3 49.92" stroke="#444" stroke-width="0.6"/>
<path d="M337.47 128.3L337.47 129.6" stroke="#444" stroke-width="0.6"/>
<path d="M253 48.54L254.3 48.54" stroke="#444" stroke-width="0.6"/>
<path d="M338.94 128.3L338.94 129.6" stroke="#444" stroke-width="0.6"/>
<path d="M252 47.3L254.3 47.3" stroke="#333" stroke-width="0.9"/>
<text x="247.97" y="49.62" font-size="5" text-anchor="end" textLength="4.73" lengthAdjust="spacingAndGlyphs" fill="#000">10</text>
<text x="247.7" y="47.3" font-size="3.7">3</text>
<path d="M340.25 128.3L340.25 130.5" stroke="#333" stroke-width="0.9"/>
<text x="337.55" y="140" font-size="5.8" textLength="5.48" lengthAdjust="spacingAndGlyphs" fill="#000">10</text>
<text x="342.95" y="136.8" font-size="4.4">3</text>
<path d="M253 39.17L254.3 39.17" stroke="#444" stroke-width="0.6"/>
<path d="M348.87 128.3L348.87 129.6" stroke="#444" stroke-width="0.6"/>
<path d="M253 34.42L254.3 34.42" stroke="#444" stroke-width="0.6"/>
<path d="M353.92 128.3L353.92 129.6" stroke="#444" stroke-width="0.6"/>
<path d="M253 31.04L254.3 31.04" stroke="#444" stroke-width="0.6"/>
<path d="M357.5 128.3L357.5 129.6" stroke="#444" stroke-width="0.6"/>
<path d="M253 28.43L254.3 28.43" stroke="#444" stroke-width="0.6"/>
<path d="M360.28 128.3L360.28 129.6" stroke="#444" stroke-width="0.6"/>
<path d="M253 26.29L254.3 26.29" stroke="#444" stroke-width="0.6"/>
<path d="M362.54 128.3L362.54 129.6" stroke="#444" stroke-width="0.6"/>
<path d="M253 24.48L254.3 24.48" stroke="#444" stroke-width="0.6"/>
<path d="M364.46 128.3L364.46 129.6" stroke="#444" stroke-width="0.6"/>
<path d="M253 22.92L254.3 22.92" stroke="#444" stroke-width="0.6"/>
<path d="M366.12 128.3L366.12 129.6" stroke="#444" stroke-width="0.6"/>
<path d="M253 21.54L254.3 21.54" stroke="#444" stroke-width="0.6"/>
<path d="M367.59 128.3L367.59 129.6" stroke="#444" stroke-width="0.6"/>
<path d="M252 20.3L254.3 20.3" stroke="#333" stroke-width="0.9"/>
<text x="247.97" y="22.62" font-size="5" text-anchor="end" textLength="4.73" lengthAdjust="spacingAndGlyphs" fill="#000">10</text>
<text x="247.7" y="20.3" font-size="3.7">4</text>
<path d="M368.9 128.3L368.9 130.5" stroke="#333" stroke-width="0.9"/>
<text x="366.2" y="140" font-size="5.8" textLength="5.48" lengthAdjust="spacingAndGlyphs" fill="#000">10</text>
<text x="371.6" y="136.8" font-size="4.4">4</text>
<text x="256.69" y="27.53" font-size="6.2" textLength="9.08" lengthAdjust="spacingAndGlyphs" fill="#000">37.6</text>
<text x="358.12" y="27.54" font-size="6.21" textLength="8.51" lengthAdjust="spacingAndGlyphs" fill="#000">1.58</text>
<text x="257.44" y="126.95" font-size="5.37" textLength="9.95" lengthAdjust="spacingAndGlyphs" fill="#000">59.9</text>
<text x="358.02" y="126.95" font-size="5.37" textLength="8.67" lengthAdjust="spacingAndGlyphs" fill="#000">0.87</text>
<text transform="translate(241.05,80.39) rotate(-90)" font-size="5.37" textLength="11.96" lengthAdjust="spacingAndGlyphs" fill="#000">CD56</text>
<text x="307.58" y="146.7" font-size="6.69" textLength="8.22" lengthAdjust="spacingAndGlyphs" fill="#000">KIR</text>
</g>
<text x="294.63" y="14.41" font-size="9.04" textLength="37.11" lengthAdjust="spacingAndGlyphs" fill="#000">MSCV-GFP</text>
<path d="M433 87h1v1h-1zM434 83h1v1h-1zM434 96h1v1h-1zM435 85h1v1h-1zM435 93h1v1h-1zM435 95h1v1h-1zM437 94h1v1h-1zM437 102h1v1h-1zM438 89h1v1h-1zM438 95h1v1h-1zM438 96h1v1h-1zM439 92h1v1h-1zM440 73h1v1h-1zM440 92h1v1h-1zM441 87h1v1h-1zM441 96h1v1h-1zM443 85h1v1h-1zM443 88h1v1h-1zM443 91h1v1h-1zM444 78h1v1h-1zM444 85h1v1h-1zM446 87h1v1h-1zM446 91h1v1h-1zM446 99h1v1h-1zM448 103h1v1h-1zM448 108h1v1h-1zM449 87h1v1h-1zM449 93h1v1h-1zM450 82h1v1h-1zM450 84h1v1h-1zM450 85h1v1h-1zM451 75h1v1h-1zM451 80h1v1h-1zM451 97h1v1h-1zM452 86h1v1h-1zM452 94h1v1h-1zM454 83h1v1h-1zM455 81h1v1h-1zM456 78h1v1h-1zM456 86h1v1h-1zM456 87h1v1h-1zM456 91h1v1h-1zM457 75h1v1h-1zM458 78h1v1h-1zM459 80h1v1h-1zM461 82h1v1h-1zM461 101h1v1h-1zM461 106h1v1h-1zM463 81h1v1h-1z" fill="#aaa"/>
<path d="M399 42h1v1h-1zM399 49h1v1h-1zM399 50h1v1h-1zM399 52h1v1h-1zM399 57h1v1h-1zM399 58h1v1h-1zM399 59h1v1h-1zM399 62h1v1h-1zM399 73h1v1h-1zM399 77h1v1h-1zM399 81h1v1h-1zM399 88h1v1h-1zM399 90h1v1h-1zM399 96h1v1h-1zM399 102h1v1h-1zM399 105h1v1h-1zM399 106h1v1h-1zM399 110h1v1h-1zM399 116h1v1h-1zM399 118h1v1h-1zM399 122h1v1h-1zM399 123h1v1h-1zM400 38h1v1h-1zM400 41h1v1h-1zM400 42h1v1h-1zM400 43h1v1h-1zM400 44h1v1h-1zM400 46h1v1h-1zM400 51h1v1h-1zM400 52h1v1h-1zM400 53h1v1h-1zM400 54h1v1h-1zM400 59h1v1h-1zM400 60h1v1h-1zM400 66h1v1h-1zM400 67h1v1h-1zM400 72h1v1h-1zM400 73h1v1h-1zM400 75h1v1h-1zM400 79h1v1h-1zM400 82h1v1h-1zM400 83h1v1h-1zM400 84h1v1h-1zM400 92h1v1h-1zM400 94h1v1h-1zM400 96h1v1h-1zM400 104h1v1h-1zM400 105h1v1h-1zM400 108h1v1h-1zM400 110h1v1h-1zM400 111h1v1h-1zM400 119h1v1h-1zM401 39h1v1h-1zM401 40h1v1h-1zM401 42h1v1h-1zM401 43h1v1h-1zM401 45h1v1h-1zM401 48h1v1h-1zM401 49h1v1h-1zM401 50h1v1h-1zM401 51h1v1h-1zM401 55h1v1h-1zM401 57h1v1h-1zM401 60h1v1h-1zM401 62h1v1h-1zM401 64h1v1h-1zM401 66h1v1h-1zM401 68h1v1h-1zM401 73h1v1h-1zM401 76h1v1h-1zM401 79h1v1h-1zM401 83h1v1h-1zM401 85h1v1h-1zM401 87h1v1h-1zM401 90h1v1h-1zM401 92h1v1h-1zM401 95h1v1h-1zM401 98h1v1h-1zM401 99h1v1h-1zM401 101h1v1h-1zM401 102h1v1h-1zM401 109h1v1h-1zM401 111h1v1h-1zM401 112h1v1h-1zM401 116h1v1h-1zM401 117h1v1h-1zM402 39h1v1h-1zM402 40h1v1h-1zM402 42h1v1h-1zM402 44h1v1h-1zM402 45h1v1h-1zM402 46h1v1h-1zM402 47h1v1h-1zM402 48h1v1h-1zM402 51h1v1h-1zM402 52h1v1h-1zM402 54h1v1h-1zM402 55h1v1h-1zM402 56h1v1h-1zM402 57h1v1h-1zM402 58h1v1h-1zM402 61h1v1h-1zM402 62h1v1h-1zM402 63h1v1h-1zM402 67h1v1h-1zM402 72h1v1h-1zM402 76h1v1h-1zM402 82h1v1h-1zM402 87h1v1h-1zM402 92h1v1h-1zM402 94h1v1h-1zM402 100h1v1h-1zM402 104h1v1h-1zM402 106h1v1h-1zM402 107h1v1h-1zM402 109h1v1h-1zM402 111h1v1h-1zM402 113h1v1h-1zM402 114h1v1h-1zM402 117h1v1h-1zM402 120h1v1h-1zM403 36h1v1h-1zM403 39h1v1h-1zM403 40h1v1h-1zM403 50h1v1h-1zM403 54h1v1h-1zM403 55h1v1h-1zM403 56h1v1h-1zM403 57h1v1h-1zM403 58h1v1h-1zM403 59h1v1h-1zM403 66h1v1h-1zM403 74h1v1h-1zM403 78h1v1h-1zM403 79h1v1h-1zM403 86h1v1h-1zM403 87h1v1h-1zM403 90h1v1h-1zM403 94h1v1h-1zM403 98h1v1h-1zM403 99h1v1h-1zM403 101h1v1h-1zM403 105h1v1h-1zM403 107h1v1h-1zM403 108h1v1h-1zM403 112h1v1h-1zM403 116h1v1h-1zM403 117h1v1h-1zM403 118h1v1h-1zM403 119h1v1h-1zM403 120h1v1h-1zM403 121h1v1h-1zM404 36h1v1h-1zM404 44h1v1h-1zM404 46h1v1h-1zM404 47h1v1h-1zM404 48h1v1h-1zM404 50h1v1h-1zM404 51h1v1h-1zM404 52h1v1h-1zM404 53h1v1h-1zM404 54h1v1h-1zM404 55h1v1h-1zM404 57h1v1h-1zM404 58h1v1h-1zM404 59h1v1h-1zM404 66h1v1h-1zM404 71h1v1h-1zM404 75h1v1h-1zM404 76h1v1h-1zM404 77h1v1h-1zM404 84h1v1h-1zM404 85h1v1h-1zM404 86h1v1h-1zM404 87h1v1h-1zM404 90h1v1h-1zM404 93h1v1h-1zM404 95h1v1h-1zM404 97h1v1h-1zM404 99h1v1h-1zM404 100h1v1h-1zM404 107h1v1h-1zM404 108h1v1h-1zM404 109h1v1h-1zM404 111h1v1h-1zM404 115h1v1h-1zM405 35h1v1h-1zM405 38h1v1h-1zM405 41h1v1h-1zM405 43h1v1h-1zM405 44h1v1h-1zM405 46h1v1h-1zM405 47h1v1h-1zM405 49h1v1h-1zM405 51h1v1h-1zM405 52h1v1h-1zM405 53h1v1h-1zM405 54h1v1h-1zM405 55h1v1h-1zM405 56h1v1h-1zM405 59h1v1h-1zM405 67h1v1h-1zM405 68h1v1h-1zM405 73h1v1h-1zM405 74h1v1h-1zM405 75h1v1h-1zM405 84h1v1h-1zM405 88h1v1h-1zM405 90h1v1h-1zM405 93h1v1h-1zM405 99h1v1h-1zM405 103h1v1h-1zM405 105h1v1h-1zM405 107h1v1h-1zM405 109h1v1h-1zM405 111h1v1h-1zM405 112h1v1h-1zM405 115h1v1h-1zM405 116h1v1h-1zM406 35h1v1h-1zM406 41h1v1h-1zM406 45h1v1h-1zM406 46h1v1h-1zM406 47h1v1h-1zM406 48h1v1h-1zM406 49h1v1h-1zM406 50h1v1h-1zM406 52h1v1h-1zM406 54h1v1h-1zM406 55h1v1h-1zM406 56h1v1h-1zM406 58h1v1h-1zM406 59h1v1h-1zM406 60h1v1h-1zM406 62h1v1h-1zM406 69h1v1h-1zM406 76h1v1h-1zM406 78h1v1h-1zM406 80h1v1h-1zM406 81h1v1h-1zM406 82h1v1h-1zM406 83h1v1h-1zM406 86h1v1h-1zM406 88h1v1h-1zM406 89h1v1h-1zM406 90h1v1h-1zM406 92h1v1h-1zM406 93h1v1h-1zM406 96h1v1h-1zM406 97h1v1h-1zM406 98h1v1h-1zM406 100h1v1h-1zM406 101h1v1h-1zM406 104h1v1h-1zM406 105h1v1h-1zM406 106h1v1h-1zM406 107h1v1h-1zM406 110h1v1h-1zM406 111h1v1h-1zM406 112h1v1h-1zM406 115h1v1h-1zM406 116h1v1h-1zM406 119h1v1h-1zM406 120h1v1h-1zM407 35h1v1h-1zM407 45h1v1h-1zM407 50h1v1h-1zM407 51h1v1h-1zM407 52h1v1h-1zM407 53h1v1h-1zM407 54h1v1h-1zM407 55h1v1h-1zM407 58h1v1h-1zM407 59h1v1h-1zM407 60h1v1h-1zM407 62h1v1h-1zM407 64h1v1h-1zM407 65h1v1h-1zM407 75h1v1h-1zM407 79h1v1h-1zM407 82h1v1h-1zM407 84h1v1h-1zM407 85h1v1h-1zM407 86h1v1h-1zM407 87h1v1h-1zM407 88h1v1h-1zM407 89h1v1h-1zM407 91h1v1h-1zM407 92h1v1h-1zM407 94h1v1h-1zM407 95h1v1h-1zM407 96h1v1h-1zM407 97h1v1h-1zM407 98h1v1h-1zM407 99h1v1h-1zM407 101h1v1h-1zM407 102h1v1h-1zM407 103h1v1h-1zM407 104h1v1h-1zM407 105h1v1h-1zM407 106h1v1h-1zM407 109h1v1h-1zM407 110h1v1h-1zM407 111h1v1h-1zM407 112h1v1h-1zM407 114h1v1h-1zM407 115h1v1h-1zM407 116h1v1h-1zM407 118h1v1h-1zM407 119h1v1h-1zM407 121h1v1h-1zM408 37h1v1h-1zM408 38h1v1h-1zM408 40h1v1h-1zM408 45h1v1h-1zM408 46h1v1h-1zM408 47h1v1h-1zM408 48h1v1h-1zM408 49h1v1h-1zM408 50h1v1h-1zM408 52h1v1h-1zM408 53h1v1h-1zM408 54h1v1h-1zM408 55h1v1h-1zM408 56h1v1h-1zM408 57h1v1h-1zM408 59h1v1h-1zM408 64h1v1h-1zM408 65h1v1h-1zM408 68h1v1h-1zM408 72h1v1h-1zM408 73h1v1h-1zM408 76h1v1h-1zM408 78h1v1h-1zM408 82h1v1h-1zM408 84h1v1h-1zM408 86h1v1h-1zM408 89h1v1h-1zM408 90h1v1h-1zM408 92h1v1h-1zM408 93h1v1h-1zM408 95h1v1h-1zM408 97h1v1h-1zM408 98h1v1h-1zM408 99h1v1h-1zM408 100h1v1h-1zM408 101h1v1h-1zM408 102h1v1h-1zM408 104h1v1h-1zM408 105h1v1h-1zM408 106h1v1h-1zM408 107h1v1h-1zM408 108h1v1h-1zM408 111h1v1h-1zM408 112h1v1h-1zM408 117h1v1h-1zM409 42h1v1h-1zM409 43h1v1h-1zM409 44h1v1h-1zM409 46h1v1h-1zM409 47h1v1h-1zM409 49h1v1h-1zM409 51h1v1h-1zM409 52h1v1h-1zM409 53h1v1h-1zM409 55h1v1h-1zM409 57h1v1h-1zM409 58h1v1h-1zM409 59h1v1h-1zM409 65h1v1h-1zM409 67h1v1h-1zM409 73h1v1h-1zM409 74h1v1h-1zM409 75h1v1h-1zM409 77h1v1h-1zM409 78h1v1h-1zM409 80h1v1h-1zM409 83h1v1h-1zM409 89h1v1h-1zM409 91h1v1h-1zM409 93h1v1h-1zM409 94h1v1h-1zM409 95h1v1h-1zM409 96h1v1h-1zM409 97h1v1h-1zM409 98h1v1h-1zM409 99h1v1h-1zM409 101h1v1h-1zM409 102h1v1h-1zM409 103h1v1h-1zM409 104h1v1h-1zM409 108h1v1h-1zM409 109h1v1h-1zM409 114h1v1h-1zM409 117h1v1h-1zM409 121h1v1h-1zM410 39h1v1h-1zM410 41h1v1h-1zM410 42h1v1h-1zM410 43h1v1h-1zM410 44h1v1h-1zM410 46h1v1h-1zM410 47h1v1h-1zM410 49h1v1h-1zM410 50h1v1h-1zM410 51h1v1h-1zM410 52h1v1h-1zM410 53h1v1h-1zM410 54h1v1h-1zM410 55h1v1h-1zM410 56h1v1h-1zM410 57h1v1h-1zM410 58h1v1h-1zM410 59h1v1h-1zM410 65h1v1h-1zM410 66h1v1h-1zM410 71h1v1h-1zM410 75h1v1h-1zM410 78h1v1h-1zM410 81h1v1h-1zM410 82h1v1h-1zM410 85h1v1h-1zM410 86h1v1h-1zM410 89h1v1h-1zM410 90h1v1h-1zM410 91h1v1h-1zM410 92h1v1h-1zM410 93h1v1h-1zM410 95h1v1h-1zM410 96h1v1h-1zM410 97h1v1h-1zM410 98h1v1h-1zM410 99h1v1h-1zM410 100h1v1h-1zM410 102h1v1h-1zM410 103h1v1h-1zM410 106h1v1h-1zM410 107h1v1h-1zM410 108h1v1h-1zM410 109h1v1h-1zM410 110h1v1h-1zM410 111h1v1h-1zM410 112h1v1h-1zM410 113h1v1h-1zM410 114h1v1h-1zM410 116h1v1h-1zM410 121h1v1h-1zM411 39h1v1h-1zM411 40h1v1h-1zM411 42h1v1h-1zM411 44h1v1h-1zM411 46h1v1h-1zM411 47h1v1h-1zM411 49h1v1h-1zM411 50h1v1h-1zM411 51h1v1h-1zM411 52h1v1h-1zM411 53h1v1h-1zM411 56h1v1h-1zM411 62h1v1h-1zM411 64h1v1h-1zM411 70h1v1h-1zM411 73h1v1h-1zM411 74h1v1h-1zM411 77h1v1h-1zM411 78h1v1h-1zM411 79h1v1h-1zM411 83h1v1h-1zM411 86h1v1h-1zM411 91h1v1h-1zM411 94h1v1h-1zM411 96h1v1h-1zM411 99h1v1h-1zM411 101h1v1h-1zM411 104h1v1h-1zM411 105h1v1h-1zM411 106h1v1h-1zM411 107h1v1h-1zM411 108h1v1h-1zM411 109h1v1h-1zM411 110h1v1h-1zM411 111h1v1h-1zM411 113h1v1h-1zM411 116h1v1h-1zM411 118h1v1h-1zM411 119h1v1h-1zM411 120h1v1h-1zM412 38h1v1h-1zM412 39h1v1h-1zM412 41h1v1h-1zM412 47h1v1h-1zM412 49h1v1h-1zM412 50h1v1h-1zM412 51h1v1h-1zM412 52h1v1h-1zM412 53h1v1h-1zM412 55h1v1h-1zM412 56h1v1h-1zM412 59h1v1h-1zM412 60h1v1h-1zM412 61h1v1h-1zM412 62h1v1h-1zM412 64h1v1h-1zM412 65h1v1h-1zM412 68h1v1h-1zM412 74h1v1h-1zM412 77h1v1h-1zM412 81h1v1h-1zM412 84h1v1h-1zM412 85h1v1h-1zM412 86h1v1h-1zM412 87h1v1h-1zM412 90h1v1h-1zM412 91h1v1h-1zM412 92h1v1h-1zM412 95h1v1h-1zM412 96h1v1h-1zM412 98h1v1h-1zM412 100h1v1h-1zM412 101h1v1h-1zM412 102h1v1h-1zM412 103h1v1h-1zM412 104h1v1h-1zM412 105h1v1h-1zM412 106h1v1h-1zM412 107h1v1h-1zM412 108h1v1h-1zM412 109h1v1h-1zM412 110h1v1h-1zM412 112h1v1h-1zM412 113h1v1h-1zM412 114h1v1h-1zM412 115h1v1h-1zM412 116h1v1h-1zM412 117h1v1h-1zM412 119h1v1h-1zM412 122h1v1h-1zM412 123h1v1h-1zM412 126h1v1h-1zM412 127h1v1h-1zM413 38h1v1h-1zM413 42h1v1h-1zM413 43h1v1h-1zM413 46h1v1h-1zM413 47h1v1h-1zM413 48h1v1h-1zM413 50h1v1h-1zM413 51h1v1h-1zM413 52h1v1h-1zM413 53h1v1h-1zM413 54h1v1h-1zM413 58h1v1h-1zM413 59h1v1h-1zM413 60h1v1h-1zM413 63h1v1h-1zM413 64h1v1h-1zM413 66h1v1h-1zM413 67h1v1h-1zM413 68h1v1h-1zM413 69h1v1h-1zM413 74h1v1h-1zM413 75h1v1h-1zM413 79h1v1h-1zM413 83h1v1h-1zM413 84h1v1h-1zM413 87h1v1h-1zM413 88h1v1h-1zM413 90h1v1h-1zM413 92h1v1h-1zM413 93h1v1h-1zM413 97h1v1h-1zM413 99h1v1h-1zM413 100h1v1h-1zM413 101h1v1h-1zM413 103h1v1h-1zM413 104h1v1h-1zM413 105h1v1h-1zM413 106h1v1h-1zM413 107h1v1h-1zM413 108h1v1h-1zM413 109h1v1h-1zM413 110h1v1h-1zM413 113h1v1h-1zM413 114h1v1h-1zM413 115h1v1h-1zM413 117h1v1h-1zM413 119h1v1h-1zM413 121h1v1h-1zM413 122h1v1h-1zM413 123h1v1h-1zM413 126h1v1h-1zM413 127h1v1h-1zM414 35h1v1h-1zM414 37h1v1h-1zM414 38h1v1h-1zM414 40h1v1h-1zM414 42h1v1h-1zM414 44h1v1h-1zM414 45h1v1h-1zM414 46h1v1h-1zM414 47h1v1h-1zM414 49h1v1h-1zM414 51h1v1h-1zM414 53h1v1h-1zM414 54h1v1h-1zM414 55h1v1h-1zM414 56h1v1h-1zM414 57h1v1h-1zM414 58h1v1h-1zM414 59h1v1h-1zM414 60h1v1h-1zM414 61h1v1h-1zM414 62h1v1h-1zM414 63h1v1h-1zM414 65h1v1h-1zM414 69h1v1h-1zM414 70h1v1h-1zM414 71h1v1h-1zM414 75h1v1h-1zM414 77h1v1h-1zM414 82h1v1h-1zM414 83h1v1h-1zM414 85h1v1h-1zM414 87h1v1h-1zM414 93h1v1h-1zM414 95h1v1h-1zM414 98h1v1h-1zM414 100h1v1h-1zM414 101h1v1h-1zM414 102h1v1h-1zM414 103h1v1h-1zM414 104h1v1h-1zM414 105h1v1h-1zM414 106h1v1h-1zM414 107h1v1h-1zM414 108h1v1h-1zM414 109h1v1h-1zM414 110h1v1h-1zM414 111h1v1h-1zM414 112h1v1h-1zM414 113h1v1h-1zM414 114h1v1h-1zM414 119h1v1h-1zM414 122h1v1h-1zM414 125h1v1h-1zM415 36h1v1h-1zM415 39h1v1h-1zM415 41h1v1h-1zM415 43h1v1h-1zM415 44h1v1h-1zM415 45h1v1h-1zM415 46h1v1h-1zM415 48h1v1h-1zM415 49h1v1h-1zM415 50h1v1h-1zM415 51h1v1h-1zM415 52h1v1h-1zM415 53h1v1h-1zM415 55h1v1h-1zM415 57h1v1h-1zM415 58h1v1h-1zM415 59h1v1h-1zM415 60h1v1h-1zM415 62h1v1h-1zM415 63h1v1h-1zM415 65h1v1h-1zM415 66h1v1h-1zM415 75h1v1h-1zM415 77h1v1h-1zM415 79h1v1h-1zM415 82h1v1h-1zM415 84h1v1h-1zM415 85h1v1h-1zM415 89h1v1h-1zM415 90h1v1h-1zM415 91h1v1h-1zM415 93h1v1h-1zM415 95h1v1h-1zM415 98h1v1h-1zM415 100h1v1h-1zM415 102h1v1h-1zM415 103h1v1h-1zM415 104h1v1h-1zM415 105h1v1h-1zM415 106h1v1h-1zM415 110h1v1h-1zM415 111h1v1h-1zM415 112h1v1h-1zM415 113h1v1h-1zM415 114h1v1h-1zM415 116h1v1h-1zM415 117h1v1h-1zM415 118h1v1h-1zM415 121h1v1h-1zM415 123h1v1h-1zM415 126h1v1h-1zM415 127h1v1h-1zM416 43h1v1h-1zM416 44h1v1h-1zM416 45h1v1h-1zM416 46h1v1h-1zM416 47h1v1h-1zM416 49h1v1h-1zM416 50h1v1h-1zM416 51h1v1h-1zM416 53h1v1h-1zM416 54h1v1h-1zM416 56h1v1h-1zM416 57h1v1h-1zM416 58h1v1h-1zM416 59h1v1h-1zM416 62h1v1h-1zM416 63h1v1h-1zM416 64h1v1h-1zM416 66h1v1h-1zM416 67h1v1h-1zM416 72h1v1h-1zM416 73h1v1h-1zM416 74h1v1h-1zM416 78h1v1h-1zM416 79h1v1h-1zM416 81h1v1h-1zM416 88h1v1h-1zM416 89h1v1h-1zM416 91h1v1h-1zM416 92h1v1h-1zM416 94h1v1h-1zM416 95h1v1h-1zM416 99h1v1h-1zM416 100h1v1h-1zM416 104h1v1h-1zM416 105h1v1h-1zM416 106h1v1h-1zM416 107h1v1h-1zM416 108h1v1h-1zM416 109h1v1h-1zM416 110h1v1h-1zM416 111h1v1h-1zM416 115h1v1h-1zM416 116h1v1h-1zM416 118h1v1h-1zM416 121h1v1h-1zM416 122h1v1h-1zM416 123h1v1h-1zM416 125h1v1h-1zM416 126h1v1h-1zM416 127h1v1h-1zM417 40h1v1h-1zM417 42h1v1h-1zM417 44h1v1h-1zM417 45h1v1h-1zM417 46h1v1h-1zM417 47h1v1h-1zM417 48h1v1h-1zM417 50h1v1h-1zM417 51h1v1h-1zM417 53h1v1h-1zM417 54h1v1h-1zM417 57h1v1h-1zM417 58h1v1h-1zM417 59h1v1h-1zM417 61h1v1h-1zM417 62h1v1h-1zM417 63h1v1h-1zM417 66h1v1h-1zM417 69h1v1h-1zM417 72h1v1h-1zM417 73h1v1h-1zM417 74h1v1h-1zM417 75h1v1h-1zM417 78h1v1h-1zM417 79h1v1h-1zM417 82h1v1h-1zM417 83h1v1h-1zM417 85h1v1h-1zM417 88h1v1h-1zM417 89h1v1h-1zM417 91h1v1h-1zM417 94h1v1h-1zM417 96h1v1h-1zM417 97h1v1h-1zM417 98h1v1h-1zM417 100h1v1h-1zM417 102h1v1h-1zM417 103h1v1h-1zM417 104h1v1h-1zM417 105h1v1h-1zM417 107h1v1h-1zM417 108h1v1h-1zM417 109h1v1h-1zM417 112h1v1h-1zM417 113h1v1h-1zM417 114h1v1h-1zM417 115h1v1h-1zM417 116h1v1h-1zM417 117h1v1h-1zM417 119h1v1h-1zM417 121h1v1h-1zM417 122h1v1h-1zM417 125h1v1h-1zM417 127h1v1h-1zM418 41h1v1h-1zM418 42h1v1h-1zM418 43h1v1h-1zM418 45h1v1h-1zM418 49h1v1h-1zM418 50h1v1h-1zM418 51h1v1h-1zM418 52h1v1h-1zM418 53h1v1h-1zM418 54h1v1h-1zM418 56h1v1h-1zM418 57h1v1h-1zM418 58h1v1h-1zM418 59h1v1h-1zM418 60h1v1h-1zM418 62h1v1h-1zM418 65h1v1h-1zM418 69h1v1h-1zM418 70h1v1h-1zM418 72h1v1h-1zM418 74h1v1h-1zM418 75h1v1h-1zM418 76h1v1h-1zM418 77h1v1h-1zM418 80h1v1h-1zM418 81h1v1h-1zM418 82h1v1h-1zM418 83h1v1h-1zM418 85h1v1h-1zM418 86h1v1h-1zM418 88h1v1h-1zM418 89h1v1h-1zM418 90h1v1h-1zM418 92h1v1h-1zM418 95h1v1h-1zM418 96h1v1h-1zM418 97h1v1h-1zM418 98h1v1h-1zM418 100h1v1h-1zM418 102h1v1h-1zM418 105h1v1h-1zM418 106h1v1h-1zM418 107h1v1h-1zM418 108h1v1h-1zM418 109h1v1h-1zM418 112h1v1h-1zM418 114h1v1h-1zM418 116h1v1h-1zM418 118h1v1h-1zM418 120h1v1h-1zM418 122h1v1h-1zM418 123h1v1h-1zM418 124h1v1h-1zM418 125h1v1h-1zM418 126h1v1h-1zM418 127h1v1h-1zM419 35h1v1h-1zM419 39h1v1h-1zM419 43h1v1h-1zM419 45h1v1h-1zM419 46h1v1h-1zM419 48h1v1h-1zM419 49h1v1h-1zM419 50h1v1h-1zM419 51h1v1h-1zM419 52h1v1h-1zM419 55h1v1h-1zM419 57h1v1h-1zM419 58h1v1h-1zM419 59h1v1h-1zM419 60h1v1h-1zM419 61h1v1h-1zM419 63h1v1h-1zM419 64h1v1h-1zM419 65h1v1h-1zM419 68h1v1h-1zM419 72h1v1h-1zM419 73h1v1h-1zM419 77h1v1h-1zM419 78h1v1h-1zM419 81h1v1h-1zM419 82h1v1h-1zM419 89h1v1h-1zM419 90h1v1h-1zM419 92h1v1h-1zM419 96h1v1h-1zM419 98h1v1h-1zM419 99h1v1h-1zM419 100h1v1h-1zM419 101h1v1h-1zM419 102h1v1h-1zM419 104h1v1h-1zM419 105h1v1h-1zM419 107h1v1h-1zM419 111h1v1h-1zM419 113h1v1h-1zM419 114h1v1h-1zM419 115h1v1h-1zM419 116h1v1h-1zM419 117h1v1h-1zM419 118h1v1h-1zM419 120h1v1h-1zM419 121h1v1h-1zM419 123h1v1h-1zM419 124h1v1h-1zM419 125h1v1h-1zM420 47h1v1h-1zM420 48h1v1h-1zM420 49h1v1h-1zM420 50h1v1h-1zM420 51h1v1h-1zM420 52h1v1h-1zM420 53h1v1h-1zM420 54h1v1h-1zM420 55h1v1h-1zM420 56h1v1h-1zM420 58h1v1h-1zM420 59h1v1h-1zM420 60h1v1h-1zM420 61h1v1h-1zM420 62h1v1h-1zM420 63h1v1h-1zM420 64h1v1h-1zM420 66h1v1h-1zM420 67h1v1h-1zM420 71h1v1h-1zM420 73h1v1h-1zM420 75h1v1h-1zM420 77h1v1h-1zM420 78h1v1h-1zM420 80h1v1h-1zM420 81h1v1h-1zM420 84h1v1h-1zM420 85h1v1h-1zM420 86h1v1h-1zM420 88h1v1h-1zM420 89h1v1h-1zM420 91h1v1h-1zM420 92h1v1h-1zM420 96h1v1h-1zM420 99h1v1h-1zM420 100h1v1h-1zM420 101h1v1h-1zM420 103h1v1h-1zM420 104h1v1h-1zM420 105h1v1h-1zM420 106h1v1h-1zM420 107h1v1h-1zM420 109h1v1h-1zM420 110h1v1h-1zM420 111h1v1h-1zM420 112h1v1h-1zM420 113h1v1h-1zM420 114h1v1h-1zM420 117h1v1h-1zM420 118h1v1h-1zM420 119h1v1h-1zM420 120h1v1h-1zM420 121h1v1h-1zM420 122h1v1h-1zM420 123h1v1h-1zM420 124h1v1h-1zM421 37h1v1h-1zM421 40h1v1h-1zM421 41h1v1h-1zM421 43h1v1h-1zM421 46h1v1h-1zM421 47h1v1h-1zM421 49h1v1h-1zM421 51h1v1h-1zM421 52h1v1h-1zM421 54h1v1h-1zM421 55h1v1h-1zM421 58h1v1h-1zM421 62h1v1h-1zM421 63h1v1h-1zM421 67h1v1h-1zM421 68h1v1h-1zM421 78h1v1h-1zM421 79h1v1h-1zM421 81h1v1h-1zM421 82h1v1h-1zM421 83h1v1h-1zM421 85h1v1h-1zM421 86h1v1h-1zM421 87h1v1h-1zM421 89h1v1h-1zM421 92h1v1h-1zM421 93h1v1h-1zM421 96h1v1h-1zM421 98h1v1h-1zM421 99h1v1h-1zM421 100h1v1h-1zM421 101h1v1h-1zM421 103h1v1h-1zM421 104h1v1h-1zM421 105h1v1h-1zM421 109h1v1h-1zM421 110h1v1h-1zM421 112h1v1h-1zM421 113h1v1h-1zM421 114h1v1h-1zM421 115h1v1h-1zM421 116h1v1h-1zM421 120h1v1h-1zM421 121h1v1h-1zM421 123h1v1h-1zM421 124h1v1h-1zM421 125h1v1h-1zM421 126h1v1h-1zM421 127h1v1h-1zM422 35h1v1h-1zM422 40h1v1h-1zM422 44h1v1h-1zM422 45h1v1h-1zM422 46h1v1h-1zM422 48h1v1h-1zM422 50h1v1h-1zM422 51h1v1h-1zM422 52h1v1h-1zM422 54h1v1h-1zM422 55h1v1h-1zM422 57h1v1h-1zM422 58h1v1h-1zM422 59h1v1h-1zM422 60h1v1h-1zM422 61h1v1h-1zM422 62h1v1h-1zM422 73h1v1h-1zM422 74h1v1h-1zM422 82h1v1h-1zM422 89h1v1h-1zM422 90h1v1h-1zM422 95h1v1h-1zM422 103h1v1h-1zM422 104h1v1h-1zM422 112h1v1h-1zM422 113h1v1h-1zM422 115h1v1h-1zM422 117h1v1h-1zM422 118h1v1h-1zM422 119h1v1h-1zM423 35h1v1h-1zM423 41h1v1h-1zM423 42h1v1h-1zM423 43h1v1h-1zM423 46h1v1h-1zM423 48h1v1h-1zM423 50h1v1h-1zM423 51h1v1h-1zM423 52h1v1h-1zM423 53h1v1h-1zM423 54h1v1h-1zM423 55h1v1h-1zM423 59h1v1h-1zM423 62h1v1h-1zM423 63h1v1h-1zM423 64h1v1h-1zM423 73h1v1h-1zM423 74h1v1h-1zM423 75h1v1h-1zM423 82h1v1h-1zM423 90h1v1h-1zM423 91h1v1h-1zM423 94h1v1h-1zM423 98h1v1h-1zM423 100h1v1h-1zM423 103h1v1h-1zM423 108h1v1h-1zM423 110h1v1h-1zM423 111h1v1h-1zM423 112h1v1h-1zM423 113h1v1h-1zM423 117h1v1h-1zM423 118h1v1h-1zM423 119h1v1h-1zM423 120h1v1h-1zM423 123h1v1h-1zM423 124h1v1h-1zM424 41h1v1h-1zM424 43h1v1h-1zM424 46h1v1h-1zM424 47h1v1h-1zM424 48h1v1h-1zM424 49h1v1h-1zM424 52h1v1h-1zM424 53h1v1h-1zM424 54h1v1h-1zM424 58h1v1h-1zM424 60h1v1h-1zM424 61h1v1h-1zM424 65h1v1h-1zM424 71h1v1h-1zM424 72h1v1h-1zM424 73h1v1h-1zM424 74h1v1h-1zM424 75h1v1h-1zM424 81h1v1h-1zM424 82h1v1h-1zM424 85h1v1h-1zM424 86h1v1h-1zM424 88h1v1h-1zM424 93h1v1h-1zM424 94h1v1h-1zM424 97h1v1h-1zM424 100h1v1h-1zM424 103h1v1h-1zM424 104h1v1h-1zM424 106h1v1h-1zM424 107h1v1h-1zM424 109h1v1h-1zM424 112h1v1h-1zM424 113h1v1h-1zM424 114h1v1h-1zM424 115h1v1h-1zM424 122h1v1h-1zM424 123h1v1h-1zM424 124h1v1h-1zM424 127h1v1h-1zM425 45h1v1h-1zM425 46h1v1h-1zM425 47h1v1h-1zM425 49h1v1h-1zM425 50h1v1h-1zM425 51h1v1h-1zM425 53h1v1h-1zM425 54h1v1h-1zM425 55h1v1h-1zM425 56h1v1h-1zM425 57h1v1h-1zM425 59h1v1h-1zM425 60h1v1h-1zM425 62h1v1h-1zM425 69h1v1h-1zM425 75h1v1h-1zM425 76h1v1h-1zM425 82h1v1h-1zM425 86h1v1h-1zM425 87h1v1h-1zM425 90h1v1h-1zM425 92h1v1h-1zM425 93h1v1h-1zM425 95h1v1h-1zM425 98h1v1h-1zM425 99h1v1h-1zM425 100h1v1h-1zM425 101h1v1h-1zM425 102h1v1h-1zM425 108h1v1h-1zM425 112h1v1h-1zM425 113h1v1h-1zM425 114h1v1h-1zM425 115h1v1h-1zM425 116h1v1h-1zM425 117h1v1h-1zM425 118h1v1h-1zM425 119h1v1h-1zM425 121h1v1h-1zM426 37h1v1h-1zM426 41h1v1h-1zM426 44h1v1h-1zM426 46h1v1h-1zM426 48h1v1h-1zM426 49h1v1h-1zM426 50h1v1h-1zM426 51h1v1h-1zM426 54h1v1h-1zM426 57h1v1h-1zM426 58h1v1h-1zM426 61h1v1h-1zM426 62h1v1h-1zM426 72h1v1h-1zM426 73h1v1h-1zM426 74h1v1h-1zM426 76h1v1h-1zM426 78h1v1h-1zM426 79h1v1h-1zM426 82h1v1h-1zM426 87h1v1h-1zM426 88h1v1h-1zM426 89h1v1h-1zM426 91h1v1h-1zM426 99h1v1h-1zM426 101h1v1h-1zM426 102h1v1h-1zM426 106h1v1h-1zM426 110h1v1h-1zM426 111h1v1h-1zM426 112h1v1h-1zM426 116h1v1h-1zM426 121h1v1h-1zM426 122h1v1h-1zM427 38h1v1h-1zM427 43h1v1h-1zM427 48h1v1h-1zM427 49h1v1h-1zM427 50h1v1h-1zM427 51h1v1h-1zM427 53h1v1h-1zM427 56h1v1h-1zM427 59h1v1h-1zM427 60h1v1h-1zM427 62h1v1h-1zM427 63h1v1h-1zM427 73h1v1h-1zM427 74h1v1h-1zM427 76h1v1h-1zM427 78h1v1h-1zM427 79h1v1h-1zM427 84h1v1h-1zM427 86h1v1h-1zM427 87h1v1h-1zM427 89h1v1h-1zM427 91h1v1h-1zM427 93h1v1h-1zM427 96h1v1h-1zM427 97h1v1h-1zM427 99h1v1h-1zM427 100h1v1h-1zM427 105h1v1h-1zM427 110h1v1h-1zM427 112h1v1h-1zM427 116h1v1h-1zM427 123h1v1h-1zM427 124h1v1h-1zM427 126h1v1h-1zM428 37h1v1h-1zM428 43h1v1h-1zM428 44h1v1h-1zM428 46h1v1h-1zM428 47h1v1h-1zM428 48h1v1h-1zM428 49h1v1h-1zM428 52h1v1h-1zM428 53h1v1h-1zM428 54h1v1h-1zM428 55h1v1h-1zM428 57h1v1h-1zM428 59h1v1h-1zM428 60h1v1h-1zM428 72h1v1h-1zM428 79h1v1h-1zM428 80h1v1h-1zM428 83h1v1h-1zM428 84h1v1h-1zM428 86h1v1h-1zM428 87h1v1h-1zM428 94h1v1h-1zM428 97h1v1h-1zM428 98h1v1h-1zM428 105h1v1h-1zM428 106h1v1h-1zM428 109h1v1h-1zM428 112h1v1h-1zM428 116h1v1h-1zM428 126h1v1h-1zM429 40h1v1h-1zM429 44h1v1h-1zM429 48h1v1h-1zM429 50h1v1h-1zM429 51h1v1h-1zM429 52h1v1h-1zM429 57h1v1h-1zM429 68h1v1h-1zM429 70h1v1h-1zM429 108h1v1h-1zM429 116h1v1h-1zM429 124h1v1h-1zM430 38h1v1h-1zM430 40h1v1h-1zM430 42h1v1h-1zM430 45h1v1h-1zM430 48h1v1h-1zM430 52h1v1h-1zM430 53h1v1h-1zM430 55h1v1h-1zM430 56h1v1h-1zM430 58h1v1h-1zM430 61h1v1h-1zM430 103h1v1h-1zM430 122h1v1h-1zM431 42h1v1h-1zM431 43h1v1h-1zM431 44h1v1h-1zM431 49h1v1h-1zM431 51h1v1h-1zM431 52h1v1h-1zM431 54h1v1h-1zM431 55h1v1h-1zM431 56h1v1h-1zM431 57h1v1h-1zM431 59h1v1h-1zM431 62h1v1h-1zM431 63h1v1h-1zM432 44h1v1h-1zM432 45h1v1h-1zM432 48h1v1h-1zM432 51h1v1h-1zM432 55h1v1h-1zM432 61h1v1h-1zM432 70h1v1h-1zM432 124h1v1h-1zM433 40h1v1h-1zM433 46h1v1h-1zM433 47h1v1h-1zM433 49h1v1h-1zM433 52h1v1h-1zM433 54h1v1h-1zM433 56h1v1h-1zM433 59h1v1h-1zM433 62h1v1h-1zM433 63h1v1h-1zM433 64h1v1h-1zM433 66h1v1h-1zM433 67h1v1h-1zM434 43h1v1h-1zM434 48h1v1h-1zM434 50h1v1h-1zM434 53h1v1h-1zM434 55h1v1h-1zM434 58h1v1h-1zM434 79h1v1h-1zM434 87h1v1h-1zM434 90h1v1h-1zM435 43h1v1h-1zM435 46h1v1h-1zM435 50h1v1h-1zM435 52h1v1h-1zM435 55h1v1h-1zM435 57h1v1h-1zM435 58h1v1h-1zM435 63h1v1h-1zM435 86h1v1h-1zM436 43h1v1h-1zM436 45h1v1h-1zM436 47h1v1h-1zM436 48h1v1h-1zM436 49h1v1h-1zM436 51h1v1h-1zM436 52h1v1h-1zM436 53h1v1h-1zM436 55h1v1h-1zM436 57h1v1h-1zM436 60h1v1h-1zM436 62h1v1h-1zM436 64h1v1h-1zM437 47h1v1h-1zM437 48h1v1h-1zM437 50h1v1h-1zM437 51h1v1h-1zM437 52h1v1h-1zM437 53h1v1h-1zM437 54h1v1h-1zM437 58h1v1h-1zM437 62h1v1h-1zM437 67h1v1h-1zM437 68h1v1h-1zM438 40h1v1h-1zM438 46h1v1h-1zM438 49h1v1h-1zM438 52h1v1h-1zM438 53h1v1h-1zM438 54h1v1h-1zM438 56h1v1h-1zM438 58h1v1h-1zM438 59h1v1h-1zM438 60h1v1h-1zM438 80h1v1h-1zM438 89h1v1h-1zM439 40h1v1h-1zM439 51h1v1h-1zM439 53h1v1h-1zM439 55h1v1h-1zM439 57h1v1h-1zM439 58h1v1h-1zM439 59h1v1h-1zM439 60h1v1h-1zM439 63h1v1h-1zM440 43h1v1h-1zM440 45h1v1h-1zM440 47h1v1h-1zM440 48h1v1h-1zM440 49h1v1h-1zM440 50h1v1h-1zM440 51h1v1h-1zM440 52h1v1h-1zM440 53h1v1h-1zM440 54h1v1h-1zM440 55h1v1h-1zM440 56h1v1h-1zM440 57h1v1h-1zM440 60h1v1h-1zM440 61h1v1h-1zM440 63h1v1h-1zM440 65h1v1h-1zM440 69h1v1h-1zM440 87h1v1h-1zM441 41h1v1h-1zM441 45h1v1h-1zM441 48h1v1h-1zM441 50h1v1h-1zM441 53h1v1h-1zM441 56h1v1h-1zM441 57h1v1h-1zM441 58h1v1h-1zM441 60h1v1h-1zM441 62h1v1h-1zM441 64h1v1h-1zM441 66h1v1h-1zM442 42h1v1h-1zM442 43h1v1h-1zM442 44h1v1h-1zM442 49h1v1h-1zM442 52h1v1h-1zM442 53h1v1h-1zM442 54h1v1h-1zM442 55h1v1h-1zM442 56h1v1h-1zM442 58h1v1h-1zM442 60h1v1h-1zM443 43h1v1h-1zM443 45h1v1h-1zM443 48h1v1h-1zM443 50h1v1h-1zM443 52h1v1h-1zM443 55h1v1h-1zM443 57h1v1h-1zM443 58h1v1h-1zM443 60h1v1h-1zM444 37h1v1h-1zM444 42h1v1h-1zM444 45h1v1h-1zM444 46h1v1h-1zM444 49h1v1h-1zM444 53h1v1h-1zM444 54h1v1h-1zM444 55h1v1h-1zM444 57h1v1h-1zM444 58h1v1h-1zM444 59h1v1h-1zM444 61h1v1h-1zM444 63h1v1h-1zM444 64h1v1h-1zM444 65h1v1h-1zM444 69h1v1h-1zM445 38h1v1h-1zM445 45h1v1h-1zM445 47h1v1h-1zM445 48h1v1h-1zM445 50h1v1h-1zM445 52h1v1h-1zM445 53h1v1h-1zM445 54h1v1h-1zM445 56h1v1h-1zM445 58h1v1h-1zM445 59h1v1h-1zM445 60h1v1h-1zM445 63h1v1h-1zM445 87h1v1h-1zM445 102h1v1h-1zM446 39h1v1h-1zM446 44h1v1h-1zM446 45h1v1h-1zM446 47h1v1h-1zM446 48h1v1h-1zM446 49h1v1h-1zM446 50h1v1h-1zM446 51h1v1h-1zM446 52h1v1h-1zM446 54h1v1h-1zM446 55h1v1h-1zM446 58h1v1h-1zM446 59h1v1h-1zM446 60h1v1h-1zM446 61h1v1h-1zM446 63h1v1h-1zM446 66h1v1h-1zM447 38h1v1h-1zM447 42h1v1h-1zM447 43h1v1h-1zM447 45h1v1h-1zM447 48h1v1h-1zM447 51h1v1h-1zM447 52h1v1h-1zM447 53h1v1h-1zM447 55h1v1h-1zM447 56h1v1h-1zM447 57h1v1h-1zM447 60h1v1h-1zM447 65h1v1h-1zM447 68h1v1h-1zM448 42h1v1h-1zM448 43h1v1h-1zM448 44h1v1h-1zM448 47h1v1h-1zM448 48h1v1h-1zM448 50h1v1h-1zM448 51h1v1h-1zM448 52h1v1h-1zM448 53h1v1h-1zM448 55h1v1h-1zM448 57h1v1h-1zM448 59h1v1h-1zM448 61h1v1h-1zM448 80h1v1h-1zM449 42h1v1h-1zM449 48h1v1h-1zM449 49h1v1h-1zM449 51h1v1h-1zM449 52h1v1h-1zM449 53h1v1h-1zM449 54h1v1h-1zM449 55h1v1h-1zM449 56h1v1h-1zM449 57h1v1h-1zM449 58h1v1h-1zM449 59h1v1h-1zM450 40h1v1h-1zM450 44h1v1h-1zM450 46h1v1h-1zM450 48h1v1h-1zM450 52h1v1h-1zM450 53h1v1h-1zM450 54h1v1h-1zM450 57h1v1h-1zM450 75h1v1h-1zM451 39h1v1h-1zM451 41h1v1h-1zM451 42h1v1h-1zM451 44h1v1h-1zM451 46h1v1h-1zM451 47h1v1h-1zM451 48h1v1h-1zM451 49h1v1h-1zM451 51h1v1h-1zM451 52h1v1h-1zM451 53h1v1h-1zM451 54h1v1h-1zM451 56h1v1h-1zM451 57h1v1h-1zM451 58h1v1h-1zM451 59h1v1h-1zM451 60h1v1h-1zM451 61h1v1h-1zM451 63h1v1h-1zM452 39h1v1h-1zM452 41h1v1h-1zM452 44h1v1h-1zM452 46h1v1h-1zM452 47h1v1h-1zM452 48h1v1h-1zM452 49h1v1h-1zM452 54h1v1h-1zM452 55h1v1h-1zM452 57h1v1h-1zM452 58h1v1h-1zM452 61h1v1h-1zM452 69h1v1h-1zM453 39h1v1h-1zM453 40h1v1h-1zM453 44h1v1h-1zM453 45h1v1h-1zM453 53h1v1h-1zM453 54h1v1h-1zM453 55h1v1h-1zM453 56h1v1h-1zM453 57h1v1h-1zM453 59h1v1h-1zM453 60h1v1h-1zM453 61h1v1h-1zM453 64h1v1h-1zM453 65h1v1h-1zM453 67h1v1h-1zM454 43h1v1h-1zM454 44h1v1h-1zM454 45h1v1h-1zM454 46h1v1h-1zM454 47h1v1h-1zM454 48h1v1h-1zM454 49h1v1h-1zM454 50h1v1h-1zM454 52h1v1h-1zM454 53h1v1h-1zM454 55h1v1h-1zM454 56h1v1h-1zM454 57h1v1h-1zM454 63h1v1h-1zM455 42h1v1h-1zM455 46h1v1h-1zM455 47h1v1h-1zM455 49h1v1h-1zM455 50h1v1h-1zM455 51h1v1h-1zM455 52h1v1h-1zM455 53h1v1h-1zM455 55h1v1h-1zM455 56h1v1h-1zM455 57h1v1h-1zM455 58h1v1h-1zM455 59h1v1h-1zM455 63h1v1h-1zM455 64h1v1h-1zM455 65h1v1h-1zM455 100h1v1h-1zM456 46h1v1h-1zM456 47h1v1h-1zM456 48h1v1h-1zM456 49h1v1h-1zM456 51h1v1h-1zM456 52h1v1h-1zM456 53h1v1h-1zM456 54h1v1h-1zM456 55h1v1h-1zM456 57h1v1h-1zM456 58h1v1h-1zM456 61h1v1h-1zM456 64h1v1h-1zM456 66h1v1h-1zM456 78h1v1h-1zM457 39h1v1h-1zM457 41h1v1h-1zM457 43h1v1h-1zM457 47h1v1h-1zM457 48h1v1h-1zM457 49h1v1h-1zM457 51h1v1h-1zM457 52h1v1h-1zM457 53h1v1h-1zM457 55h1v1h-1zM457 56h1v1h-1zM457 57h1v1h-1zM457 62h1v1h-1zM458 39h1v1h-1zM458 41h1v1h-1zM458 51h1v1h-1zM458 52h1v1h-1zM458 53h1v1h-1zM458 54h1v1h-1zM458 58h1v1h-1zM458 60h1v1h-1zM458 62h1v1h-1zM458 64h1v1h-1zM459 43h1v1h-1zM459 49h1v1h-1zM459 51h1v1h-1zM459 52h1v1h-1zM459 54h1v1h-1zM459 59h1v1h-1zM459 61h1v1h-1zM460 43h1v1h-1zM460 45h1v1h-1zM460 46h1v1h-1zM460 47h1v1h-1zM460 49h1v1h-1zM460 50h1v1h-1zM460 51h1v1h-1zM460 52h1v1h-1zM460 53h1v1h-1zM460 54h1v1h-1zM460 55h1v1h-1zM460 56h1v1h-1zM461 45h1v1h-1zM461 46h1v1h-1zM461 48h1v1h-1zM461 51h1v1h-1zM461 52h1v1h-1zM461 53h1v1h-1zM461 54h1v1h-1zM461 55h1v1h-1zM461 57h1v1h-1zM461 58h1v1h-1zM461 59h1v1h-1zM462 42h1v1h-1zM462 46h1v1h-1zM462 47h1v1h-1zM462 53h1v1h-1zM462 55h1v1h-1zM462 56h1v1h-1zM462 57h1v1h-1zM462 60h1v1h-1zM463 52h1v1h-1zM463 53h1v1h-1zM463 59h1v1h-1zM463 63h1v1h-1zM463 101h1v1h-1zM464 50h1v1h-1zM464 51h1v1h-1zM464 52h1v1h-1zM464 53h1v1h-1zM464 55h1v1h-1zM464 70h1v1h-1zM465 50h1v1h-1zM466 39h1v1h-1zM466 48h1v1h-1zM466 50h1v1h-1zM466 61h1v1h-1zM466 64h1v1h-1zM466 122h1v1h-1zM467 53h1v1h-1zM468 48h1v1h-1zM468 67h1v1h-1zM468 123h1v1h-1zM469 39h1v1h-1zM469 54h1v1h-1zM470 46h1v1h-1zM470 61h1v1h-1zM471 106h1v1h-1zM472 50h1v1h-1zM474 46h1v1h-1z" fill="#5c5c5c"/>
<path d="M432.3 20.3L432.3 128.3" stroke="#808080" stroke-width="1.0"/>
<path d="M398.2 71.1L514.3 71.1" stroke="#808080" stroke-width="1.0"/>
<rect x="398.2" y="20.3" width="116.1" height="108" fill="none" stroke="#333" stroke-width="1.2"/>
<g stroke="#000" stroke-width="0.2">
<path d="M395.9 128.3L398.2 128.3" stroke="#333" stroke-width="0.9"/>
<text x="391.87" y="130.62" font-size="5" text-anchor="end" textLength="4.73" lengthAdjust="spacingAndGlyphs" fill="#000">10</text>
<text x="391.6" y="128.3" font-size="3.7">0</text>
<path d="M398.2 128.3L398.2 130.5" stroke="#333" stroke-width="0.9"/>
<text x="395.5" y="140" font-size="5.8" textLength="5.48" lengthAdjust="spacingAndGlyphs" fill="#000">10</text>
<text x="400.9" y="136.8" font-size="4.4">0</text>
<path d="M396.9 120.17L398.2 120.17" stroke="#444" stroke-width="0.6"/>
<path d="M406.94 128.3L406.94 129.6" stroke="#444" stroke-width="0.6"/>
<path d="M396.9 115.42L398.2 115.42" stroke="#444" stroke-width="0.6"/>
<path d="M412.05 128.3L412.05 129.6" stroke="#444" stroke-width="0.6"/>
<path d="M396.9 112.04L398.2 112.04" stroke="#444" stroke-width="0.6"/>
<path d="M415.67 128.3L415.67 129.6" stroke="#444" stroke-width="0.6"/>
<path d="M396.9 109.43L398.2 109.43" stroke="#444" stroke-width="0.6"/>
<path d="M418.49 128.3L418.49 129.6" stroke="#444" stroke-width="0.6"/>
<path d="M396.9 107.29L398.2 107.29" stroke="#444" stroke-width="0.6"/>
<path d="M420.79 128.3L420.79 129.6" stroke="#444" stroke-width="0.6"/>
<path d="M396.9 105.48L398.2 105.48" stroke="#444" stroke-width="0.6"/>
<path d="M422.73 128.3L422.73 129.6" stroke="#444" stroke-width="0.6"/>
<path d="M396.9 103.92L398.2 103.92" stroke="#444" stroke-width="0.6"/>
<path d="M424.41 128.3L424.41 129.6" stroke="#444" stroke-width="0.6"/>
<path d="M396.9 102.54L398.2 102.54" stroke="#444" stroke-width="0.6"/>
<path d="M425.9 128.3L425.9 129.6" stroke="#444" stroke-width="0.6"/>
<path d="M395.9 101.3L398.2 101.3" stroke="#333" stroke-width="0.9"/>
<text x="391.87" y="103.62" font-size="5" text-anchor="end" textLength="4.73" lengthAdjust="spacingAndGlyphs" fill="#000">10</text>
<text x="391.6" y="101.3" font-size="3.7">1</text>
<path d="M427.22 128.3L427.22 130.5" stroke="#333" stroke-width="0.9"/>
<text x="424.53" y="140" font-size="5.8" textLength="5.48" lengthAdjust="spacingAndGlyphs" fill="#000">10</text>
<text x="429.92" y="136.8" font-size="4.4">1</text>
<path d="M396.9 93.17L398.2 93.17" stroke="#444" stroke-width="0.6"/>
<path d="M435.96 128.3L435.96 129.6" stroke="#444" stroke-width="0.6"/>
<path d="M396.9 88.42L398.2 88.42" stroke="#444" stroke-width="0.6"/>
<path d="M441.07 128.3L441.07 129.6" stroke="#444" stroke-width="0.6"/>
<path d="M396.9 85.04L398.2 85.04" stroke="#444" stroke-width="0.6"/>
<path d="M444.7 128.3L444.7 129.6" stroke="#444" stroke-width="0.6"/>
<path d="M396.9 82.43L398.2 82.43" stroke="#444" stroke-width="0.6"/>
<path d="M447.51 128.3L447.51 129.6" stroke="#444" stroke-width="0.6"/>
<path d="M396.9 80.29L398.2 80.29" stroke="#444" stroke-width="0.6"/>
<path d="M449.81 128.3L449.81 129.6" stroke="#444" stroke-width="0.6"/>
<path d="M396.9 78.48L398.2 78.48" stroke="#444" stroke-width="0.6"/>
<path d="M451.75 128.3L451.75 129.6" stroke="#444" stroke-width="0.6"/>
<path d="M396.9 76.92L398.2 76.92" stroke="#444" stroke-width="0.6"/>
<path d="M453.44 128.3L453.44 129.6" stroke="#444" stroke-width="0.6"/>
<path d="M396.9 75.54L398.2 75.54" stroke="#444" stroke-width="0.6"/>
<path d="M454.92 128.3L454.92 129.6" stroke="#444" stroke-width="0.6"/>
<path d="M395.9 74.3L398.2 74.3" stroke="#333" stroke-width="0.9"/>
<text x="391.87" y="76.62" font-size="5" text-anchor="end" textLength="4.73" lengthAdjust="spacingAndGlyphs" fill="#000">10</text>
<text x="391.6" y="74.3" font-size="3.7">2</text>
<path d="M456.25 128.3L456.25 130.5" stroke="#333" stroke-width="0.9"/>
<text x="453.55" y="140" font-size="5.8" textLength="5.48" lengthAdjust="spacingAndGlyphs" fill="#000">10</text>
<text x="458.95" y="136.8" font-size="4.4">2</text>
<path d="M396.9 66.17L398.2 66.17" stroke="#444" stroke-width="0.6"/>
<path d="M464.99 128.3L464.99 129.6" stroke="#444" stroke-width="0.6"/>
<path d="M396.9 61.42L398.2 61.42" stroke="#444" stroke-width="0.6"/>
<path d="M470.1 128.3L470.1 129.6" stroke="#444" stroke-width="0.6"/>
<path d="M396.9 58.04L398.2 58.04" stroke="#444" stroke-width="0.6"/>
<path d="M473.72 128.3L473.72 129.6" stroke="#444" stroke-width="0.6"/>
<path d="M396.9 55.43L398.2 55.43" stroke="#444" stroke-width="0.6"/>
<path d="M476.54 128.3L476.54 129.6" stroke="#444" stroke-width="0.6"/>
<path d="M396.9 53.29L398.2 53.29" stroke="#444" stroke-width="0.6"/>
<path d="M478.84 128.3L478.84 129.6" stroke="#444" stroke-width="0.6"/>
<path d="M396.9 51.48L398.2 51.48" stroke="#444" stroke-width="0.6"/>
<path d="M480.78 128.3L480.78 129.6" stroke="#444" stroke-width="0.6"/>
<path d="M396.9 49.92L398.2 49.92" stroke="#444" stroke-width="0.6"/>
<path d="M482.46 128.3L482.46 129.6" stroke="#444" stroke-width="0.6"/>
<path d="M396.9 48.54L398.2 48.54" stroke="#444" stroke-width="0.6"/>
<path d="M483.95 128.3L483.95 129.6" stroke="#444" stroke-width="0.6"/>
<path d="M395.9 47.3L398.2 47.3" stroke="#333" stroke-width="0.9"/>
<text x="391.87" y="49.62" font-size="5" text-anchor="end" textLength="4.73" lengthAdjust="spacingAndGlyphs" fill="#000">10</text>
<text x="391.6" y="47.3" font-size="3.7">3</text>
<path d="M485.27 128.3L485.27 130.5" stroke="#333" stroke-width="0.9"/>
<text x="482.58" y="140" font-size="5.8" textLength="5.48" lengthAdjust="spacingAndGlyphs" fill="#000">10</text>
<text x="487.97" y="136.8" font-size="4.4">3</text>
<path d="M396.9 39.17L398.2 39.17" stroke="#444" stroke-width="0.6"/>
<path d="M494.01 128.3L494.01 129.6" stroke="#444" stroke-width="0.6"/>
<path d="M396.9 34.42L398.2 34.42" stroke="#444" stroke-width="0.6"/>
<path d="M499.12 128.3L499.12 129.6" stroke="#444" stroke-width="0.6"/>
<path d="M396.9 31.04L398.2 31.04" stroke="#444" stroke-width="0.6"/>
<path d="M502.75 128.3L502.75 129.6" stroke="#444" stroke-width="0.6"/>
<path d="M396.9 28.43L398.2 28.43" stroke="#444" stroke-width="0.6"/>
<path d="M505.56 128.3L505.56 129.6" stroke="#444" stroke-width="0.6"/>
<path d="M396.9 26.29L398.2 26.29" stroke="#444" stroke-width="0.6"/>
<path d="M507.86 128.3L507.86 129.6" stroke="#444" stroke-width="0.6"/>
<path d="M396.9 24.48L398.2 24.48" stroke="#444" stroke-width="0.6"/>
<path d="M509.8 128.3L509.8 129.6" stroke="#444" stroke-width="0.6"/>
<path d="M396.9 22.92L398.2 22.92" stroke="#444" stroke-width="0.6"/>
<path d="M511.49 128.3L511.49 129.6" stroke="#444" stroke-width="0.6"/>
<path d="M396.9 21.54L398.2 21.54" stroke="#444" stroke-width="0.6"/>
<path d="M512.97 128.3L512.97 129.6" stroke="#444" stroke-width="0.6"/>
<path d="M395.9 20.3L398.2 20.3" stroke="#333" stroke-width="0.9"/>
<text x="391.87" y="22.62" font-size="5" text-anchor="end" textLength="4.73" lengthAdjust="spacingAndGlyphs" fill="#000">10</text>
<text x="391.6" y="20.3" font-size="3.7">4</text>
<path d="M514.3 128.3L514.3 130.5" stroke="#333" stroke-width="0.9"/>
<text x="511.6" y="140" font-size="5.8" textLength="5.48" lengthAdjust="spacingAndGlyphs" fill="#000">10</text>
<text x="517" y="136.8" font-size="4.4">4</text>
<text x="400.56" y="27.54" font-size="6.31" textLength="9.07" lengthAdjust="spacingAndGlyphs" fill="#000">57.5</text>
<text x="507.34" y="27.6" font-size="6.4" textLength="4.58" lengthAdjust="spacingAndGlyphs" fill="#000">14</text>
<text x="401.32" y="126.95" font-size="5.37" textLength="9.93" lengthAdjust="spacingAndGlyphs" fill="#000">27.8</text>
<text x="503.43" y="126.95" font-size="5.37" textLength="8.5" lengthAdjust="spacingAndGlyphs" fill="#000">0.64</text>
<text transform="translate(384.95,80.39) rotate(-90)" font-size="5.37" textLength="11.96" lengthAdjust="spacingAndGlyphs" fill="#000">CD56</text>
<text x="451.48" y="146.7" font-size="6.69" textLength="8.22" lengthAdjust="spacingAndGlyphs" fill="#000">KIR</text>
</g>
<text x="439.61" y="14.42" font-size="9.05" textLength="44" lengthAdjust="spacingAndGlyphs" fill="#000">MSCV-c-Myc</text>
<text x="1.09" y="176.92" font-size="18.5" textLength="12.48" lengthAdjust="spacingAndGlyphs" fill="#000">C</text>
<path d="M20.2 203.15L20.2 306.9" stroke="#000" stroke-width="1.25"/>
<text x="10.1" y="206.13" font-size="6.78" textLength="7.1" lengthAdjust="spacingAndGlyphs" fill="#000">18</text>
<path d="M17.4 306.3L20.2 306.3" stroke="#000" stroke-width="1.2"/>
<text x="17.26" y="308.63" font-size="6.78" text-anchor="end" textLength="3.55" lengthAdjust="spacingAndGlyphs" fill="#000">0</text>
<path d="M17.4 294.89L20.2 294.89" stroke="#000" stroke-width="1.2"/>
<text x="17.26" y="297.26" font-size="6.78" text-anchor="end" textLength="3.55" lengthAdjust="spacingAndGlyphs" fill="#000">2</text>
<path d="M17.4 283.49L20.2 283.49" stroke="#000" stroke-width="1.2"/>
<text x="17.03" y="285.82" font-size="6.78" text-anchor="end" textLength="3.55" lengthAdjust="spacingAndGlyphs" fill="#000">4</text>
<path d="M17.4 272.08L20.2 272.08" stroke="#000" stroke-width="1.2"/>
<text x="17.23" y="274.42" font-size="6.78" text-anchor="end" textLength="3.55" lengthAdjust="spacingAndGlyphs" fill="#000">6</text>
<path d="M17.4 260.68L20.2 260.68" stroke="#000" stroke-width="1.2"/>
<text x="17.2" y="263.01" font-size="6.78" text-anchor="end" textLength="3.55" lengthAdjust="spacingAndGlyphs" fill="#000">8</text>
<path d="M17.4 249.27L20.2 249.27" stroke="#000" stroke-width="1.2"/>
<text x="17.26" y="251.61" font-size="6.78" text-anchor="end" textLength="7.1" lengthAdjust="spacingAndGlyphs" fill="#000">10</text>
<path d="M17.4 237.87L20.2 237.87" stroke="#000" stroke-width="1.2"/>
<text x="17.26" y="240.23" font-size="6.78" text-anchor="end" textLength="7.1" lengthAdjust="spacingAndGlyphs" fill="#000">12</text>
<path d="M17.4 226.46L20.2 226.46" stroke="#000" stroke-width="1.2"/>
<text x="17.03" y="228.79" font-size="6.78" text-anchor="end" textLength="7.1" lengthAdjust="spacingAndGlyphs" fill="#000">14</text>
<path d="M17.4 215.06L20.2 215.06" stroke="#000" stroke-width="1.2"/>
<text x="17.23" y="217.39" font-size="6.78" text-anchor="end" textLength="7.1" lengthAdjust="spacingAndGlyphs" fill="#000">16</text>
<path d="M17.4 203.65L20.2 203.65" stroke="#000" stroke-width="1.2"/>
<path d="M19.6 306.3L157.6 306.3" stroke="#000" stroke-width="1.25"/>
<path d="M20.2 306.3L20.2 310" stroke="#000" stroke-width="1.2"/>
<path d="M88.2 306.3L88.2 310" stroke="#000" stroke-width="1.2"/>
<path d="M157 306.3L157 310" stroke="#000" stroke-width="1.2"/>
<path d="M54.6 287.48L54.6 289.19" stroke="#000" stroke-width="1.2"/>
<path d="M53.3 287.48L55.9 287.48" stroke="#000" stroke-width="1.2"/>
<rect x="40.9" y="289.19" width="27.4" height="17.11" fill="#888" stroke="#000" stroke-width="1.1"/>
<path d="M122.9 212.77L122.9 224.18" stroke="#000" stroke-width="1.2"/>
<path d="M121.6 212.77L124.2 212.77" stroke="#000" stroke-width="1.2"/>
<rect x="109" y="224.18" width="27.8" height="82.12" fill="#888" stroke="#000" stroke-width="1.1"/>
<text x="47.69" y="322.71" font-size="9.18" textLength="15.78" lengthAdjust="spacingAndGlyphs" fill="#000">GFP</text>
<text x="113.6" y="322.62" font-size="9.05" textLength="21.93" lengthAdjust="spacingAndGlyphs" fill="#000">c-Myc</text>
<text transform="translate(7.84,290.35) rotate(-90)" font-size="6.54" textLength="61.56" lengthAdjust="spacingAndGlyphs" fill="#000">Mean % of KIR<tspan font-size="3.4" dy="-2.3">+</tspan><tspan dy="2.3"> NK</tspan></text>
<text x="171.9" y="177.1" font-size="18.02" textLength="12.95" lengthAdjust="spacingAndGlyphs" fill="#000">D</text>
<path d="M205.8 193.7L205.8 306.9" stroke="#000" stroke-width="1.25"/>
<text x="184.73" y="196.43" font-size="7.2" textLength="18.12" lengthAdjust="spacingAndGlyphs" fill="#000">1.0000</text>
<path d="M202.6 194.2L205.8 194.2" stroke="#000" stroke-width="1.2"/>
<path d="M202.6 216.62L205.8 216.62" stroke="#000" stroke-width="1.2"/>
<text x="202.84" y="219.1" font-size="7.2" text-anchor="end" textLength="18.12" lengthAdjust="spacingAndGlyphs" fill="#000">0.1000</text>
<path d="M202.6 239.04L205.8 239.04" stroke="#000" stroke-width="1.2"/>
<text x="202.84" y="241.52" font-size="7.2" text-anchor="end" textLength="18.12" lengthAdjust="spacingAndGlyphs" fill="#000">0.0100</text>
<path d="M202.6 261.46L205.8 261.46" stroke="#000" stroke-width="1.2"/>
<text x="202.84" y="263.94" font-size="7.2" text-anchor="end" textLength="18.12" lengthAdjust="spacingAndGlyphs" fill="#000">0.0010</text>
<path d="M202.6 283.88L205.8 283.88" stroke="#000" stroke-width="1.2"/>
<text x="202.76" y="286.36" font-size="7.2" text-anchor="end" textLength="18.12" lengthAdjust="spacingAndGlyphs" fill="#000">0.0001</text>
<path d="M202.6 306.3L205.8 306.3" stroke="#000" stroke-width="1.2"/>
<text x="202.84" y="308.78" font-size="7.2" text-anchor="end" textLength="18.12" lengthAdjust="spacingAndGlyphs" fill="#000">0.0000</text>
<path d="M205.2 306.3L508.8 306.3" stroke="#000" stroke-width="1.25"/>
<path d="M205.9 306.3L205.9 309.3" stroke="#000" stroke-width="1.2"/>
<path d="M223.71 306.3L223.71 309.3" stroke="#000" stroke-width="1.2"/>
<path d="M241.52 306.3L241.52 309.3" stroke="#000" stroke-width="1.2"/>
<path d="M259.33 306.3L259.33 309.3" stroke="#000" stroke-width="1.2"/>
<path d="M277.14 306.3L277.14 309.3" stroke="#000" stroke-width="1.2"/>
<path d="M294.95 306.3L294.95 309.3" stroke="#000" stroke-width="1.2"/>
<path d="M312.76 306.3L312.76 309.3" stroke="#000" stroke-width="1.2"/>
<path d="M330.57 306.3L330.57 309.3" stroke="#000" stroke-width="1.2"/>
<path d="M348.38 306.3L348.38 309.3" stroke="#000" stroke-width="1.2"/>
<path d="M366.19 306.3L366.19 309.3" stroke="#000" stroke-width="1.2"/>
<path d="M384 306.3L384 309.3" stroke="#000" stroke-width="1.2"/>
<path d="M401.81 306.3L401.81 309.3" stroke="#000" stroke-width="1.2"/>
<path d="M419.62 306.3L419.62 309.3" stroke="#000" stroke-width="1.2"/>
<path d="M437.43 306.3L437.43 309.3" stroke="#000" stroke-width="1.2"/>
<path d="M455.24 306.3L455.24 309.3" stroke="#000" stroke-width="1.2"/>
<path d="M473.05 306.3L473.05 309.3" stroke="#000" stroke-width="1.2"/>
<path d="M490.86 306.3L490.86 309.3" stroke="#000" stroke-width="1.2"/>
<path d="M508.67 306.3L508.67 309.3" stroke="#000" stroke-width="1.2"/>
<rect x="216.3" y="197.8" width="4.4" height="4.9" fill="#858585" stroke="#444" stroke-width="0.5"/>
<rect x="216.1" y="207" width="4.7" height="5.8" fill="#000"/>
<text x="222.83" y="202.63" font-size="7.2" textLength="13.29" lengthAdjust="spacingAndGlyphs" fill="#000">GFP</text>
<text x="222.98" y="212.42" font-size="7.77" textLength="13.99" lengthAdjust="spacingAndGlyphs" fill="#000">MYC</text>
<rect x="210.1" y="275.5" width="4.9" height="30.8" fill="#888" stroke="#222" stroke-width="0.7"/>
<path d="M218 254.3L218 256.2" stroke="#000" stroke-width="1.0"/>
<path d="M216.8 254.3L219.2 254.3" stroke="#000" stroke-width="1.0"/>
<rect x="215" y="256.2" width="6" height="50.1" fill="#000"/>
<circle cx="217.8" cy="249.1" r="1.25" fill="#000"/>
<text transform="translate(214.2,320) rotate(-45)" font-size="7.8" text-anchor="end" textLength="16.78" lengthAdjust="spacingAndGlyphs">2DL1</text>
<rect x="227.85" y="286.8" width="4.9" height="19.5" fill="#888" stroke="#222" stroke-width="0.7"/>
<path d="M235.75 260L235.75 265.1" stroke="#000" stroke-width="1.0"/>
<path d="M234.55 260L236.95 260" stroke="#000" stroke-width="1.0"/>
<rect x="232.75" y="265.1" width="6" height="41.2" fill="#000"/>
<circle cx="235.55" cy="253.4" r="1.25" fill="#000"/>
<text transform="translate(231.95,320) rotate(-45)" font-size="7.8" text-anchor="end" textLength="17.17" lengthAdjust="spacingAndGlyphs">2DS1</text>
<rect x="245.6" y="271.2" width="4.9" height="35.1" fill="#888" stroke="#222" stroke-width="0.7"/>
<path d="M253.5 225.7L253.5 232" stroke="#000" stroke-width="1.0"/>
<path d="M252.3 225.7L254.7 225.7" stroke="#000" stroke-width="1.0"/>
<rect x="250.5" y="232" width="6" height="74.3" fill="#000"/>
<circle cx="253.3" cy="218.1" r="1.25" fill="#000"/>
<text transform="translate(249.7,320) rotate(-45)" font-size="7.8" text-anchor="end" textLength="16.78" lengthAdjust="spacingAndGlyphs">2DL2</text>
<rect x="263.35" y="264.8" width="4.9" height="41.5" fill="#888" stroke="#222" stroke-width="0.7"/>
<path d="M271.25 225L271.25 228.5" stroke="#000" stroke-width="1.0"/>
<path d="M270.05 225L272.45 225" stroke="#000" stroke-width="1.0"/>
<rect x="268.25" y="228.5" width="6" height="77.8" fill="#000"/>
<circle cx="271.05" cy="218.1" r="1.25" fill="#000"/>
<text transform="translate(267.45,320) rotate(-45)" font-size="7.8" text-anchor="end" textLength="16.78" lengthAdjust="spacingAndGlyphs">2DL3</text>
<rect x="281.1" y="266" width="4.9" height="40.3" fill="#888" stroke="#222" stroke-width="0.7"/>
<path d="M289 222.6L289 228.9" stroke="#000" stroke-width="1.0"/>
<path d="M287.8 222.6L290.2 222.6" stroke="#000" stroke-width="1.0"/>
<rect x="286" y="228.9" width="6" height="77.4" fill="#000"/>
<circle cx="288.8" cy="218.1" r="1.25" fill="#000"/>
<text transform="translate(285.2,320) rotate(-45)" font-size="7.8" text-anchor="end" textLength="17.17" lengthAdjust="spacingAndGlyphs">2DS2</text>
<rect x="298.85" y="256.5" width="4.9" height="49.8" fill="#888" stroke="#222" stroke-width="0.7"/>
<path d="M306.75 222.8L306.75 225.1" stroke="#000" stroke-width="1.0"/>
<path d="M305.55 222.8L307.95 222.8" stroke="#000" stroke-width="1.0"/>
<rect x="303.75" y="225.1" width="6" height="81.2" fill="#000"/>
<circle cx="306.55" cy="218.2" r="1.25" fill="#000"/>
<text transform="translate(302.95,320) rotate(-45)" font-size="7.8" text-anchor="end" textLength="16.78" lengthAdjust="spacingAndGlyphs">3DL1</text>
<rect x="316.6" y="264.2" width="4.9" height="42.1" fill="#888" stroke="#222" stroke-width="0.7"/>
<path d="M324.5 232L324.5 234.6" stroke="#000" stroke-width="1.0"/>
<path d="M323.3 232L325.7 232" stroke="#000" stroke-width="1.0"/>
<rect x="321.5" y="234.6" width="6" height="71.7" fill="#000"/>
<circle cx="324.3" cy="227.3" r="1.25" fill="#000"/>
<text transform="translate(320.7,320) rotate(-45)" font-size="7.8" text-anchor="end" textLength="17.17" lengthAdjust="spacingAndGlyphs">2DS4</text>
<rect x="334.35" y="230.3" width="4.9" height="76" fill="#888" stroke="#222" stroke-width="0.7"/>
<path d="M342.25 203.6L342.25 204.8" stroke="#000" stroke-width="1.0"/>
<path d="M341.05 203.6L343.45 203.6" stroke="#000" stroke-width="1.0"/>
<rect x="339.25" y="204.8" width="6" height="101.5" fill="#000"/>
<circle cx="342.05" cy="200.7" r="1.25" fill="#000"/>
<text transform="translate(338.45,320) rotate(-45)" font-size="7.8" text-anchor="end" textLength="16.78" lengthAdjust="spacingAndGlyphs">2DL4</text>
<path d="M354.5 272.2L354.5 274.2" stroke="#000" stroke-width="0.9"/>
<path d="M353.4 272.2L355.6 272.2" stroke="#000" stroke-width="0.9"/>
<rect x="352.1" y="274.2" width="4.9" height="32.1" fill="#888" stroke="#222" stroke-width="0.7"/>
<path d="M360 232.9L360 235" stroke="#000" stroke-width="1.0"/>
<path d="M358.8 232.9L361.2 232.9" stroke="#000" stroke-width="1.0"/>
<rect x="357" y="235" width="6" height="71.3" fill="#000"/>
<circle cx="359.8" cy="227.3" r="1.25" fill="#000"/>
<text transform="translate(356.2,320) rotate(-45)" font-size="7.8" text-anchor="end" textLength="16.78" lengthAdjust="spacingAndGlyphs">3DL2</text>
<path d="M377.75 258.4L377.75 264.6" stroke="#000" stroke-width="1.0"/>
<path d="M376.55 258.4L378.95 258.4" stroke="#000" stroke-width="1.0"/>
<rect x="374.75" y="264.6" width="6" height="41.7" fill="#000"/>
<text transform="translate(373.95,320) rotate(-45)" font-size="7.8" text-anchor="end" textLength="16.78" lengthAdjust="spacingAndGlyphs">2DL5</text>
<text transform="translate(391.7,320) rotate(-45)" font-size="7.8" text-anchor="end" textLength="17.17" lengthAdjust="spacingAndGlyphs">2DS3</text>
<rect x="405.35" y="283.9" width="4.9" height="22.4" fill="#888" stroke="#222" stroke-width="0.7"/>
<path d="M413.25 243.4L413.25 249.4" stroke="#000" stroke-width="1.0"/>
<path d="M412.05 243.4L414.45 243.4" stroke="#000" stroke-width="1.0"/>
<rect x="410.25" y="249.4" width="6" height="56.9" fill="#000"/>
<circle cx="413.05" cy="239.9" r="1.25" fill="#000"/>
<text transform="translate(409.45,320) rotate(-45)" font-size="7.8" text-anchor="end" textLength="17.17" lengthAdjust="spacingAndGlyphs">3DS1</text>
<path d="M431 242.2L431 246.8" stroke="#000" stroke-width="1.0"/>
<path d="M429.8 242.2L432.2 242.2" stroke="#000" stroke-width="1.0"/>
<rect x="428" y="246.8" width="6" height="59.5" fill="#000"/>
<text transform="translate(427.2,320) rotate(-45)" font-size="7.8" text-anchor="end" textLength="17.17" lengthAdjust="spacingAndGlyphs">2DS5</text>
<rect x="440.85" y="216.3" width="4.9" height="90" fill="#888" stroke="#222" stroke-width="0.7"/>
<path d="M448.75 202.4L448.75 205" stroke="#000" stroke-width="1.0"/>
<path d="M447.55 202.4L449.95 202.4" stroke="#000" stroke-width="1.0"/>
<rect x="445.75" y="205" width="6" height="101.3" fill="#000"/>
<text transform="translate(444.95,320) rotate(-45)" font-size="7.8" text-anchor="end" textLength="16.78" lengthAdjust="spacingAndGlyphs">3DL3</text>
<rect x="458.6" y="239.3" width="4.9" height="67" fill="#888" stroke="#222" stroke-width="0.7"/>
<path d="M466.5 209.4L466.5 213.4" stroke="#000" stroke-width="1.0"/>
<path d="M465.3 209.4L467.7 209.4" stroke="#000" stroke-width="1.0"/>
<rect x="463.5" y="213.4" width="6" height="92.9" fill="#000"/>
<circle cx="466.3" cy="204.7" r="1.25" fill="#000"/>
<text transform="translate(464.6,320) rotate(-45)" font-size="7.8" text-anchor="end" textLength="37.38" lengthAdjust="spacingAndGlyphs">2DL3 Distal</text>
<rect x="476.35" y="254.7" width="4.9" height="51.6" fill="#888" stroke="#222" stroke-width="0.7"/>
<path d="M484.25 225.5L484.25 227.2" stroke="#000" stroke-width="1.0"/>
<path d="M483.05 225.5L485.45 225.5" stroke="#000" stroke-width="1.0"/>
<rect x="481.25" y="227.2" width="6" height="79.1" fill="#000"/>
<circle cx="484.05" cy="218" r="1.25" fill="#000"/>
<text transform="translate(482.35,320) rotate(-45)" font-size="7.8" text-anchor="end" textLength="29.37" lengthAdjust="spacingAndGlyphs">2D Distal</text>
<rect x="494.1" y="252.5" width="4.9" height="53.8" fill="#888" stroke="#222" stroke-width="0.7"/>
<path d="M502 224.3L502 226.3" stroke="#000" stroke-width="1.0"/>
<path d="M500.8 224.3L503.2 224.3" stroke="#000" stroke-width="1.0"/>
<rect x="499" y="226.3" width="6" height="80" fill="#000"/>
<circle cx="501.8" cy="218" r="1.25" fill="#000"/>
<text transform="translate(500.1,320) rotate(-45)" font-size="7.8" text-anchor="end" textLength="37.38" lengthAdjust="spacingAndGlyphs">3DL1 Distal</text>
<text transform="translate(178.91,325.52) rotate(-90)" font-size="6.22" textLength="145.17" lengthAdjust="spacingAndGlyphs" fill="#000">Relative Expression Compared to PBNK Control</text>
</svg></body></html>
